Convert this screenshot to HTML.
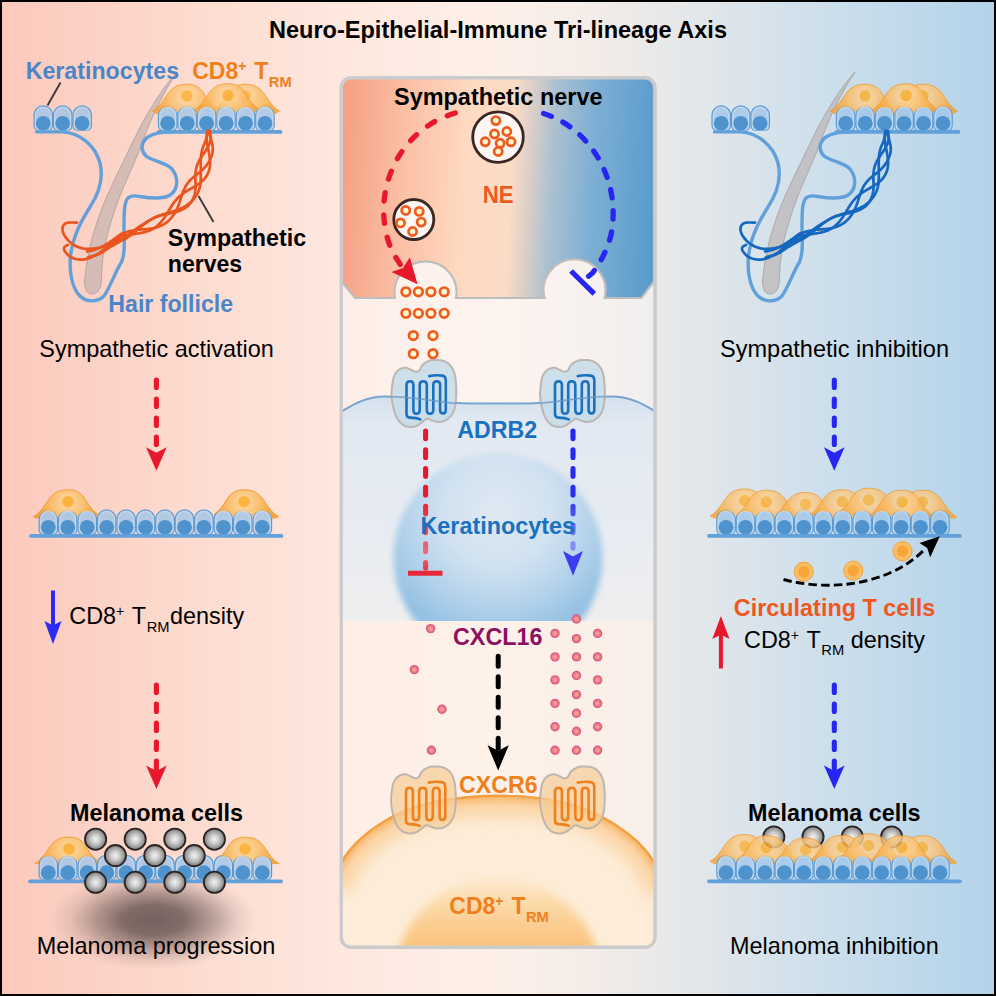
<!DOCTYPE html>
<html><head><meta charset="utf-8"><title>Neuro-Epithelial-Immune Tri-lineage Axis</title>
<style>html,body{margin:0;padding:0;background:#000;width:996px;height:996px;overflow:hidden;font-family:"Liberation Sans",sans-serif}svg{display:block;position:absolute;left:0;top:0}</style>
</head><body>
<svg width="996" height="996" viewBox="0 0 996 996" font-family="'Liberation Sans', sans-serif">
<defs>
<linearGradient id="bg" x1="0" x2="1" y1="0" y2="0">
 <stop offset="0" stop-color="#fbc9bc"/>
 <stop offset="0.16" stop-color="#fdd8cc"/>
 <stop offset="0.33" stop-color="#fee7de"/>
 <stop offset="0.5" stop-color="#fdf0e9"/>
 <stop offset="0.6" stop-color="#f3ece8"/>
 <stop offset="0.68" stop-color="#e6e8e9"/>
 <stop offset="0.8" stop-color="#d2e1ec"/>
 <stop offset="1" stop-color="#b2d3ea"/>
</linearGradient>
<linearGradient id="nerve" gradientUnits="userSpaceOnUse" x1="343" x2="653" y1="182" y2="197.5">
 <stop offset="0" stop-color="#f5a185"/>
 <stop offset="0.2" stop-color="#fbc1a6"/>
 <stop offset="0.4" stop-color="#fedac2"/>
 <stop offset="0.54" stop-color="#fbdcc6"/>
 <stop offset="0.60" stop-color="#dacec8"/>
 <stop offset="0.675" stop-color="#a9c0d1"/>
 <stop offset="0.8" stop-color="#7eafd4"/>
 <stop offset="1" stop-color="#5a9ccc"/>
</linearGradient>
<linearGradient id="kfill" x1="0" x2="0" y1="0" y2="1">
 <stop offset="0" stop-color="#d3e1ee"/>
 <stop offset="0.12" stop-color="#e2e9f2"/>
 <stop offset="0.6" stop-color="#e8ecf2"/>
 <stop offset="1" stop-color="#efeeef"/>
</linearGradient>
<radialGradient id="nuc" gradientUnits="userSpaceOnUse" cx="498" cy="512" r="136">
 <stop offset="0" stop-color="#dfe9f3"/>
 <stop offset="0.42" stop-color="#d0e1f0"/>
 <stop offset="0.72" stop-color="#b0d0ea"/>
 <stop offset="0.9" stop-color="#98c3e4"/>
 <stop offset="1" stop-color="#8ebde1"/>
</radialGradient>
<radialGradient id="tcell" gradientUnits="userSpaceOnUse" cx="498" cy="985" r="200" gradientTransform="translate(498 985) scale(1 0.96) translate(-498 -985)">
 <stop offset="0" stop-color="#fdebd2"/>
 <stop offset="0.7" stop-color="#fde9ce"/>
 <stop offset="0.86" stop-color="#fde1bd"/>
 <stop offset="0.935" stop-color="#fcd3a0"/>
 <stop offset="0.975" stop-color="#f9bd76"/>
 <stop offset="1" stop-color="#f5a54a"/>
</radialGradient>
<linearGradient id="tnuc" gradientUnits="userSpaceOnUse" x1="0" x2="0" y1="874" y2="948">
 <stop offset="0" stop-color="#fde6c6" stop-opacity="0.5"/>
 <stop offset="0.35" stop-color="#fcdcae"/>
 <stop offset="0.7" stop-color="#fbcd90"/>
 <stop offset="1" stop-color="#fac27a"/>
</linearGradient>
<filter id="blur4" x="-20%" y="-20%" width="140%" height="140%"><feGaussianBlur stdDeviation="4"/></filter>
<radialGradient id="shadow" cx="0.5" cy="0.5" r="0.5">
 <stop offset="0" stop-color="#453737" stop-opacity="0.74"/>
 <stop offset="0.3" stop-color="#483a3a" stop-opacity="0.68"/>
 <stop offset="0.55" stop-color="#4e4040" stop-opacity="0.42"/>
 <stop offset="0.8" stop-color="#5a4a4a" stop-opacity="0.13"/>
 <stop offset="1" stop-color="#6a5858" stop-opacity="0"/>
</radialGradient>
<radialGradient id="mel" cx="0.5" cy="0.5" r="0.5">
 <stop offset="0" stop-color="#f4f4f4"/>
 <stop offset="0.45" stop-color="#c9c9c9"/>
 <stop offset="1" stop-color="#7c7c7c"/>
</radialGradient>
<radialGradient id="circ" cx="0.5" cy="0.5" r="0.5">
 <stop offset="0" stop-color="#fbc266"/>
 <stop offset="0.6" stop-color="#f8ae45"/>
 <stop offset="1" stop-color="#f39a2c"/>
</radialGradient>
<radialGradient id="pink" cx="0.5" cy="0.5" r="0.5">
 <stop offset="0" stop-color="#f8b68c"/>
 <stop offset="0.5" stop-color="#ee808e"/>
 <stop offset="1" stop-color="#d6507f"/>
</radialGradient>
<radialGradient id="nev" cx="0.5" cy="0.5" r="0.5">
 <stop offset="0" stop-color="#fffbe2"/>
 <stop offset="0.5" stop-color="#fff6cc"/>
 <stop offset="1" stop-color="#ffeeb0"/>
</radialGradient>
<radialGradient id="tr" gradientUnits="userSpaceOnUse" cx="0" cy="1" r="30">
 <stop offset="0" stop-color="#fcd79c"/>
 <stop offset="0.3" stop-color="#fbcb88"/>
 <stop offset="0.65" stop-color="#f8b75c"/>
 <stop offset="1" stop-color="#f5a136"/>
</radialGradient>
<linearGradient id="redfade" gradientUnits="userSpaceOnUse" x1="0" x2="0" y1="428" y2="575">
 <stop offset="0" stop-color="#e8182c"/>
 <stop offset="0.45" stop-color="#e8182c"/>
 <stop offset="0.85" stop-color="#ee6a78"/>
 <stop offset="1" stop-color="#e8283a"/>
</linearGradient>
<linearGradient id="bluefade" gradientUnits="userSpaceOnUse" x1="0" x2="0" y1="428" y2="577">
 <stop offset="0" stop-color="#2424f0"/>
 <stop offset="0.45" stop-color="#2c2cf2"/>
 <stop offset="0.8" stop-color="#8890f0"/>
 <stop offset="1" stop-color="#3a3af0"/>
</linearGradient>
<filter id="blur12" x="-50%" y="-50%" width="200%" height="200%"><feGaussianBlur stdDeviation="13"/></filter>
<filter id="blur1" x="-20%" y="-20%" width="140%" height="140%"><feGaussianBlur stdDeviation="0.7"/></filter>
<filter id="blur2b" x="-20%" y="-20%" width="140%" height="140%"><feGaussianBlur stdDeviation="3"/></filter>
<filter id="blur2" x="-20%" y="-20%" width="140%" height="140%"><feGaussianBlur stdDeviation="1.2"/></filter>
<filter id="blur6" x="-20%" y="-20%" width="140%" height="140%"><feGaussianBlur stdDeviation="7"/></filter>
<clipPath id="panelclip"><rect x="342.5" y="78.5" width="311.2" height="868" rx="9"/></clipPath>
<clipPath id="kclip"><rect x="342" y="380" width="313" height="241"/></clipPath>
</defs>

<rect x="0" y="0" width="996" height="996" fill="#000"/>
<rect x="2" y="2" width="992" height="992" fill="url(#bg)"/>
<g clip-path="url(#panelclip)">
<rect x="341" y="77" width="315" height="871" fill="#ffffff" fill-opacity="0.28"/>
<rect x="341" y="620" width="315" height="330" fill="#fdeee3" fill-opacity="0.55"/>
<path d="M341,412 C355,403 368,396.5 385,396.5 C420,396.5 440,403.5 470,403.5 L526,403.5 C556,403.5 580,396.5 611,396.5 C629,396.5 642,403 656,412 L656,621 L341,621 Z" fill="url(#kfill)"/>
<g clip-path="url(#kclip)"><circle cx="498" cy="557.5" r="104.5" fill="url(#nuc)" filter="url(#blur2b)"/></g>
<path d="M341,412 C355,403 368,396.5 385,396.5 C420,396.5 440,403.5 470,403.5 L526,403.5 C556,403.5 580,396.5 611,396.5 C629,396.5 642,403 656,412" fill="none" stroke="#79a4cd" stroke-width="2.1"/>
<clipPath id="tclip"><path d="M330,885 C338,860 352,843 371,829 C390,815 410,806 432,801.5 C455,796.5 478,794.8 498,794.8 C518,794.8 545,796 569,803 C592,809 612,820 630,834 C648,848 660,866 668,890 L668,960 L330,960 Z"/></clipPath>
<g clip-path="url(#tclip)">
<rect x="330" y="780" width="340" height="180" fill="#fdedd8"/>
<path d="M330,885 C338,860 352,843 371,829 C390,815 410,806 432,801.5 C455,796.5 478,794.8 498,794.8 C518,794.8 545,796 569,803 C592,809 612,820 630,834 C648,848 660,866 668,890" fill="none" stroke="#fbcf98" stroke-width="44" opacity="0.75" filter="url(#blur6)"/>
<path d="M330,885 C338,860 352,843 371,829 C390,815 410,806 432,801.5 C455,796.5 478,794.8 498,794.8 C518,794.8 545,796 569,803 C592,809 612,820 630,834 C648,848 660,866 668,890" fill="none" stroke="#f7b263" stroke-width="12" opacity="0.9" filter="url(#blur2b)"/>
<path d="M330,885 C338,860 352,843 371,829 C390,815 410,806 432,801.5 C455,796.5 478,794.8 498,794.8 C518,794.8 545,796 569,803 C592,809 612,820 630,834 C648,848 660,866 668,890" fill="none" stroke="#f4a043" stroke-width="4.5" filter="url(#blur1)"/>
</g>
<ellipse cx="498" cy="978" rx="103" ry="100" fill="url(#tnuc)" filter="url(#blur4)"/>
<path d="M342,88 Q342,78 352,78 L644,78 Q654,78 654,88 L654,281.5 L641.5,298 L604.5,298 A31,31 0 1 0 544.5,298 L456,298 A31,31 0 1 0 395,298 L355,298 L342,282 Z" fill="url(#nerve)" stroke="#bdbdbd" stroke-width="2.2"/>
</g>
<rect x="341.2" y="77.8" width="313.8" height="869.5" rx="10" fill="none" stroke="#cbcbcb" stroke-width="3.4"/>
<circle cx="498" cy="137.1" r="25.3" fill="#fdf6f2" stroke="#3a2723" stroke-width="2.8"/><circle cx="495.9" cy="120.6" r="4.1" fill="url(#nev)" stroke="#ef5a1d" stroke-width="2.7"/><circle cx="506.8" cy="131.5" r="4.1" fill="url(#nev)" stroke="#ef5a1d" stroke-width="2.7"/><circle cx="494.5" cy="134" r="4.1" fill="url(#nev)" stroke="#ef5a1d" stroke-width="2.7"/><circle cx="485.2" cy="141.8" r="4.1" fill="url(#nev)" stroke="#ef5a1d" stroke-width="2.7"/><circle cx="500.1" cy="143.3" r="4.1" fill="url(#nev)" stroke="#ef5a1d" stroke-width="2.7"/><circle cx="511" cy="141.8" r="4.1" fill="url(#nev)" stroke="#ef5a1d" stroke-width="2.7"/><circle cx="498.2" cy="151.5" r="4.1" fill="url(#nev)" stroke="#ef5a1d" stroke-width="2.7"/>
<circle cx="413.8" cy="219.5" r="20" fill="#fdf6f2" stroke="#3a2723" stroke-width="2.8"/><circle cx="405.7" cy="210.4" r="4.1" fill="url(#nev)" stroke="#ef5a1d" stroke-width="2.7"/><circle cx="419.2" cy="211.4" r="4.1" fill="url(#nev)" stroke="#ef5a1d" stroke-width="2.7"/><circle cx="400.5" cy="222.9" r="4.1" fill="url(#nev)" stroke="#ef5a1d" stroke-width="2.7"/><circle cx="421.2" cy="222.1" r="4.1" fill="url(#nev)" stroke="#ef5a1d" stroke-width="2.7"/><circle cx="412.6" cy="231.5" r="4.1" fill="url(#nev)" stroke="#ef5a1d" stroke-width="2.7"/>
<path id="redarc" d="M455.3,113 C404,128 376,180 385.5,230 C388.5,245 393,254 398.5,261.5 L400.2,264.5" fill="none" stroke="#e8182c" stroke-width="5.3" stroke-dasharray="8.4 13.96" stroke-linecap="round"/>
<path d="M417.6,284.3 L391.5,272 L403,268 L409.8,257.3 Z" fill="#e8182c"/>
<path id="bluearc" d="M543.5,113.5 C590,128 622,180 611,235 C607,251 600,263 592.5,273 L588.6,276.2" fill="none" stroke="#2626f2" stroke-width="5.3" stroke-dasharray="8.4 12.84" stroke-linecap="round"/>
<line x1="571" y1="271" x2="594.3" y2="293.8" stroke="#2626f2" stroke-width="5.2"/>
<circle cx="405.9" cy="291.8" r="4.3" fill="url(#nev)" stroke="#ef5a1d" stroke-width="2.7"/>
<circle cx="418.4" cy="291.8" r="4.3" fill="url(#nev)" stroke="#ef5a1d" stroke-width="2.7"/>
<circle cx="430.9" cy="291.8" r="4.3" fill="url(#nev)" stroke="#ef5a1d" stroke-width="2.7"/>
<circle cx="444.2" cy="291.8" r="4.3" fill="url(#nev)" stroke="#ef5a1d" stroke-width="2.7"/>
<circle cx="405.9" cy="313.3" r="4.3" fill="url(#nev)" stroke="#ef5a1d" stroke-width="2.7"/>
<circle cx="418.4" cy="313.3" r="4.3" fill="url(#nev)" stroke="#ef5a1d" stroke-width="2.7"/>
<circle cx="430.9" cy="313.3" r="4.3" fill="url(#nev)" stroke="#ef5a1d" stroke-width="2.7"/>
<circle cx="444.2" cy="313.3" r="4.3" fill="url(#nev)" stroke="#ef5a1d" stroke-width="2.7"/>
<circle cx="413.3" cy="335.6" r="4.3" fill="url(#nev)" stroke="#ef5a1d" stroke-width="2.7"/>
<circle cx="433" cy="335.6" r="4.3" fill="url(#nev)" stroke="#ef5a1d" stroke-width="2.7"/>
<circle cx="413.3" cy="353.7" r="4.3" fill="url(#nev)" stroke="#ef5a1d" stroke-width="2.7"/>
<circle cx="433" cy="353.7" r="4.3" fill="url(#nev)" stroke="#ef5a1d" stroke-width="2.7"/>
<g transform="translate(0 0)"><path d="M391.7,390.3 L391.9,388.4 L392.1,386.3 L392.4,384 L392.7,381.6 L393.1,379.5 L393.6,377.6 L394.2,376 L394.8,374.6 L395.5,373.4 L396.3,372.3 L397.2,371.3 L398.1,370.4 L399.2,369.6 L400.3,369 L401.6,368.5 L402.9,368.1 L404.1,367.8 L405.3,367.7 L406.4,367.8 L407.5,368.1 L408.6,368.6 L409.7,369.1 L410.7,369.6 L411.6,370 L412.5,370.4 L413.3,370.8 L414,371.2 L414.7,371.5 L415.4,371.7 L416.1,371.8 L416.8,371.7 L417.4,371.6 L418,371.3 L418.6,371 L419.2,370.5 L419.7,370 L420.2,369.3 L420.6,368.5 L420.9,367.6 L421.3,366.7 L421.8,365.8 L422.5,365 L423.3,364.2 L424.3,363.4 L425.4,362.7 L426.5,362 L427.7,361.4 L428.8,360.9 L429.9,360.5 L431.1,360.3 L432.2,360.1 L433.4,360 L434.7,360 L436,360 L437.4,360.1 L439,360.1 L440.6,360.3 L442.1,360.6 L443.6,360.9 L445,361.4 L446.2,362 L447.4,362.8 L448.5,363.6 L449.6,364.6 L450.5,365.6 L451.4,366.8 L452.2,368 L452.9,369.3 L453.5,370.7 L454.1,372.3 L454.6,373.9 L455,375.8 L455.4,377.9 L455.7,380.2 L455.9,382.7 L456.1,385.3 L456.2,387.8 L456.3,390.3 L456.3,392.8 L456.2,395.3 L456.1,397.8 L455.9,400.3 L455.7,402.6 L455.4,404.7 L455,406.6 L454.6,408.2 L454.2,409.8 L453.7,411.2 L453,412.5 L452.3,413.8 L451.4,415.1 L450.5,416.3 L449.4,417.4 L448.3,418.4 L447.1,419.3 L446,420.1 L444.8,420.7 L443.6,421.1 L442.4,421.5 L441.1,421.7 L439.9,421.8 L438.7,421.9 L437.6,421.9 L436.5,421.7 L435.4,421.5 L434.4,421.2 L433.4,420.9 L432.4,420.6 L431.4,420.3 L430.5,419.8 L429.6,419.4 L428.7,419 L427.8,418.7 L427,418.7 L426.2,418.9 L425.5,419.4 L424.8,419.9 L424.1,420.6 L423.3,421.3 L422.5,421.9 L421.5,422.6 L420.5,423.3 L419.4,424.1 L418.3,424.8 L417.2,425.5 L416.1,426 L415.1,426.4 L414,426.7 L413,426.8 L412,427 L410.9,427 L409.8,426.9 L408.6,426.7 L407.4,426.5 L406.1,426.2 L404.9,425.8 L403.7,425.3 L402.6,424.6 L401.6,423.8 L400.6,422.9 L399.7,421.9 L398.8,420.8 L398,419.6 L397.2,418.3 L396.5,416.9 L395.8,415.3 L395.2,413.6 L394.6,411.9 L394.1,410.1 L393.6,408.4 L393.2,406.6 L392.8,404.7 L392.4,402.8 L392.1,400.9 L391.9,399.1 L391.7,397.5 L391.6,396.1 L391.5,395 L391.5,394 L391.5,393 L391.6,391.8 Z" fill="#c6dce9" fill-opacity="0.85" stroke="#b9b0ac" stroke-width="2" stroke-opacity="0.9"/><path d="M420.2,419.4 C417,417.9 412.5,417.7 410,417.6 Q406.5,417.4 406.5,414 L406.5,385 Q406.5,381.2 410,381.2 Q413.4,381.2 413.4,385 L413.4,410 Q413.4,413.8 416.5,413.8 Q419.7,413.8 419.7,410 L419.7,385 Q419.7,381.2 423.2,381.2 Q426.8,381.2 426.8,385 L426.8,410 Q426.8,413.8 430,413.8 Q433.3,413.8 433.3,410 L433.3,385 Q433.3,381.2 436.7,381.2 Q440.1,381.2 440.1,385 L440.1,410 Q440.1,413.4 443,413.4 Q445.8,413.4 445.8,410 L445.8,380.5 Q445.8,376 442,375.6 C438,375.1 434,375.2 429.2,376.1" fill="none" stroke="#1a71c0" stroke-width="2.6" stroke-linecap="round" stroke-linejoin="round"/></g>
<g transform="translate(148.5 0)"><path d="M391.7,390.3 L391.9,388.4 L392.1,386.3 L392.4,384 L392.7,381.6 L393.1,379.5 L393.6,377.6 L394.2,376 L394.8,374.6 L395.5,373.4 L396.3,372.3 L397.2,371.3 L398.1,370.4 L399.2,369.6 L400.3,369 L401.6,368.5 L402.9,368.1 L404.1,367.8 L405.3,367.7 L406.4,367.8 L407.5,368.1 L408.6,368.6 L409.7,369.1 L410.7,369.6 L411.6,370 L412.5,370.4 L413.3,370.8 L414,371.2 L414.7,371.5 L415.4,371.7 L416.1,371.8 L416.8,371.7 L417.4,371.6 L418,371.3 L418.6,371 L419.2,370.5 L419.7,370 L420.2,369.3 L420.6,368.5 L420.9,367.6 L421.3,366.7 L421.8,365.8 L422.5,365 L423.3,364.2 L424.3,363.4 L425.4,362.7 L426.5,362 L427.7,361.4 L428.8,360.9 L429.9,360.5 L431.1,360.3 L432.2,360.1 L433.4,360 L434.7,360 L436,360 L437.4,360.1 L439,360.1 L440.6,360.3 L442.1,360.6 L443.6,360.9 L445,361.4 L446.2,362 L447.4,362.8 L448.5,363.6 L449.6,364.6 L450.5,365.6 L451.4,366.8 L452.2,368 L452.9,369.3 L453.5,370.7 L454.1,372.3 L454.6,373.9 L455,375.8 L455.4,377.9 L455.7,380.2 L455.9,382.7 L456.1,385.3 L456.2,387.8 L456.3,390.3 L456.3,392.8 L456.2,395.3 L456.1,397.8 L455.9,400.3 L455.7,402.6 L455.4,404.7 L455,406.6 L454.6,408.2 L454.2,409.8 L453.7,411.2 L453,412.5 L452.3,413.8 L451.4,415.1 L450.5,416.3 L449.4,417.4 L448.3,418.4 L447.1,419.3 L446,420.1 L444.8,420.7 L443.6,421.1 L442.4,421.5 L441.1,421.7 L439.9,421.8 L438.7,421.9 L437.6,421.9 L436.5,421.7 L435.4,421.5 L434.4,421.2 L433.4,420.9 L432.4,420.6 L431.4,420.3 L430.5,419.8 L429.6,419.4 L428.7,419 L427.8,418.7 L427,418.7 L426.2,418.9 L425.5,419.4 L424.8,419.9 L424.1,420.6 L423.3,421.3 L422.5,421.9 L421.5,422.6 L420.5,423.3 L419.4,424.1 L418.3,424.8 L417.2,425.5 L416.1,426 L415.1,426.4 L414,426.7 L413,426.8 L412,427 L410.9,427 L409.8,426.9 L408.6,426.7 L407.4,426.5 L406.1,426.2 L404.9,425.8 L403.7,425.3 L402.6,424.6 L401.6,423.8 L400.6,422.9 L399.7,421.9 L398.8,420.8 L398,419.6 L397.2,418.3 L396.5,416.9 L395.8,415.3 L395.2,413.6 L394.6,411.9 L394.1,410.1 L393.6,408.4 L393.2,406.6 L392.8,404.7 L392.4,402.8 L392.1,400.9 L391.9,399.1 L391.7,397.5 L391.6,396.1 L391.5,395 L391.5,394 L391.5,393 L391.6,391.8 Z" fill="#c6dce9" fill-opacity="0.85" stroke="#b9b0ac" stroke-width="2" stroke-opacity="0.9"/><path d="M420.2,419.4 C417,417.9 412.5,417.7 410,417.6 Q406.5,417.4 406.5,414 L406.5,385 Q406.5,381.2 410,381.2 Q413.4,381.2 413.4,385 L413.4,410 Q413.4,413.8 416.5,413.8 Q419.7,413.8 419.7,410 L419.7,385 Q419.7,381.2 423.2,381.2 Q426.8,381.2 426.8,385 L426.8,410 Q426.8,413.8 430,413.8 Q433.3,413.8 433.3,410 L433.3,385 Q433.3,381.2 436.7,381.2 Q440.1,381.2 440.1,385 L440.1,410 Q440.1,413.4 443,413.4 Q445.8,413.4 445.8,410 L445.8,380.5 Q445.8,376 442,375.6 C438,375.1 434,375.2 429.2,376.1" fill="none" stroke="#1a71c0" stroke-width="2.6" stroke-linecap="round" stroke-linejoin="round"/></g>
<path d="M391,396.7 C420,396.7 440,403 457,403.3" fill="none" stroke="#6f97c2" stroke-width="1.5" opacity="0.75"/>
<path d="M540,403.2 C560,402 582,396.8 605.5,396.6" fill="none" stroke="#6f97c2" stroke-width="1.5" opacity="0.75"/>
<line x1="425.6" y1="431" x2="425.6" y2="568" stroke="url(#redfade)" stroke-width="5.1" stroke-dasharray="7.6 11.2" stroke-linecap="round"/>
<line x1="408" y1="573.3" x2="442.5" y2="573.3" stroke="#e8283a" stroke-width="5"/>
<line x1="573" y1="431" x2="573" y2="548" stroke="url(#bluefade)" stroke-width="5.1" stroke-dasharray="7.6 11.2" stroke-linecap="round"/>
<path d="M573,575.8 L563,551 L573,556.5 L583,551 Z" fill="#3c3cf0"/>
<circle cx="430.6" cy="628.6" r="4.7" fill="url(#pink)"/>
<circle cx="414.3" cy="669.6" r="4.7" fill="url(#pink)"/>
<circle cx="442" cy="709.3" r="4.7" fill="url(#pink)"/>
<circle cx="431.4" cy="750.3" r="4.7" fill="url(#pink)"/>
<circle cx="555" cy="633.4" r="4.7" fill="url(#pink)"/>
<circle cx="555" cy="656.9" r="4.7" fill="url(#pink)"/>
<circle cx="555" cy="679.9" r="4.7" fill="url(#pink)"/>
<circle cx="555" cy="703.4" r="4.7" fill="url(#pink)"/>
<circle cx="555" cy="726.8" r="4.7" fill="url(#pink)"/>
<circle cx="555" cy="750.3" r="4.7" fill="url(#pink)"/>
<circle cx="597.6" cy="633.4" r="4.7" fill="url(#pink)"/>
<circle cx="597.6" cy="656.9" r="4.7" fill="url(#pink)"/>
<circle cx="597.6" cy="679.9" r="4.7" fill="url(#pink)"/>
<circle cx="597.6" cy="703.4" r="4.7" fill="url(#pink)"/>
<circle cx="597.6" cy="726.8" r="4.7" fill="url(#pink)"/>
<circle cx="597.6" cy="750.3" r="4.7" fill="url(#pink)"/>
<circle cx="576.5" cy="619" r="4.7" fill="url(#pink)"/>
<circle cx="576.5" cy="638.6" r="4.7" fill="url(#pink)"/>
<circle cx="576.5" cy="656.9" r="4.7" fill="url(#pink)"/>
<circle cx="576.5" cy="675.5" r="4.7" fill="url(#pink)"/>
<circle cx="576.5" cy="694.6" r="4.7" fill="url(#pink)"/>
<circle cx="576.5" cy="713.3" r="4.7" fill="url(#pink)"/>
<circle cx="576.5" cy="731.2" r="4.7" fill="url(#pink)"/>
<circle cx="576.5" cy="750.3" r="4.7" fill="url(#pink)"/>
<line x1="498.2" y1="656.2" x2="498.2" y2="752" stroke="#000" stroke-width="5" stroke-dasharray="10 10.5" stroke-linecap="round"/>
<path d="M498.2,770.6 L487.6,745.2 L498.2,750.8 L508.8,745.2 Z" fill="#000"/>
<g transform="translate(-0.5 406.5)"><path d="M391.7,390.3 L391.9,388.4 L392.1,386.3 L392.4,384 L392.7,381.6 L393.1,379.5 L393.6,377.6 L394.2,376 L394.8,374.6 L395.5,373.4 L396.3,372.3 L397.2,371.3 L398.1,370.4 L399.2,369.6 L400.3,369 L401.6,368.5 L402.9,368.1 L404.1,367.8 L405.3,367.7 L406.4,367.8 L407.5,368.1 L408.6,368.6 L409.7,369.1 L410.7,369.6 L411.6,370 L412.5,370.4 L413.3,370.8 L414,371.2 L414.7,371.5 L415.4,371.7 L416.1,371.8 L416.8,371.7 L417.4,371.6 L418,371.3 L418.6,371 L419.2,370.5 L419.7,370 L420.2,369.3 L420.6,368.5 L420.9,367.6 L421.3,366.7 L421.8,365.8 L422.5,365 L423.3,364.2 L424.3,363.4 L425.4,362.7 L426.5,362 L427.7,361.4 L428.8,360.9 L429.9,360.5 L431.1,360.3 L432.2,360.1 L433.4,360 L434.7,360 L436,360 L437.4,360.1 L439,360.1 L440.6,360.3 L442.1,360.6 L443.6,360.9 L445,361.4 L446.2,362 L447.4,362.8 L448.5,363.6 L449.6,364.6 L450.5,365.6 L451.4,366.8 L452.2,368 L452.9,369.3 L453.5,370.7 L454.1,372.3 L454.6,373.9 L455,375.8 L455.4,377.9 L455.7,380.2 L455.9,382.7 L456.1,385.3 L456.2,387.8 L456.3,390.3 L456.3,392.8 L456.2,395.3 L456.1,397.8 L455.9,400.3 L455.7,402.6 L455.4,404.7 L455,406.6 L454.6,408.2 L454.2,409.8 L453.7,411.2 L453,412.5 L452.3,413.8 L451.4,415.1 L450.5,416.3 L449.4,417.4 L448.3,418.4 L447.1,419.3 L446,420.1 L444.8,420.7 L443.6,421.1 L442.4,421.5 L441.1,421.7 L439.9,421.8 L438.7,421.9 L437.6,421.9 L436.5,421.7 L435.4,421.5 L434.4,421.2 L433.4,420.9 L432.4,420.6 L431.4,420.3 L430.5,419.8 L429.6,419.4 L428.7,419 L427.8,418.7 L427,418.7 L426.2,418.9 L425.5,419.4 L424.8,419.9 L424.1,420.6 L423.3,421.3 L422.5,421.9 L421.5,422.6 L420.5,423.3 L419.4,424.1 L418.3,424.8 L417.2,425.5 L416.1,426 L415.1,426.4 L414,426.7 L413,426.8 L412,427 L410.9,427 L409.8,426.9 L408.6,426.7 L407.4,426.5 L406.1,426.2 L404.9,425.8 L403.7,425.3 L402.6,424.6 L401.6,423.8 L400.6,422.9 L399.7,421.9 L398.8,420.8 L398,419.6 L397.2,418.3 L396.5,416.9 L395.8,415.3 L395.2,413.6 L394.6,411.9 L394.1,410.1 L393.6,408.4 L393.2,406.6 L392.8,404.7 L392.4,402.8 L392.1,400.9 L391.9,399.1 L391.7,397.5 L391.6,396.1 L391.5,395 L391.5,394 L391.5,393 L391.6,391.8 Z" fill="#f6cf9c" fill-opacity="0.75" stroke="#b9b0ac" stroke-width="2" stroke-opacity="0.9"/><path d="M420.2,419.4 C417,417.9 412.5,417.7 410,417.6 Q406.5,417.4 406.5,414 L406.5,385 Q406.5,381.2 410,381.2 Q413.4,381.2 413.4,385 L413.4,410 Q413.4,413.8 416.5,413.8 Q419.7,413.8 419.7,410 L419.7,385 Q419.7,381.2 423.2,381.2 Q426.8,381.2 426.8,385 L426.8,410 Q426.8,413.8 430,413.8 Q433.3,413.8 433.3,410 L433.3,385 Q433.3,381.2 436.7,381.2 Q440.1,381.2 440.1,385 L440.1,410 Q440.1,413.4 443,413.4 Q445.8,413.4 445.8,410 L445.8,380.5 Q445.8,376 442,375.6 C438,375.1 434,375.2 429.2,376.1" fill="none" stroke="#f0801c" stroke-width="2.6" stroke-linecap="round" stroke-linejoin="round"/></g>
<g transform="translate(148.5 406.5)"><path d="M391.7,390.3 L391.9,388.4 L392.1,386.3 L392.4,384 L392.7,381.6 L393.1,379.5 L393.6,377.6 L394.2,376 L394.8,374.6 L395.5,373.4 L396.3,372.3 L397.2,371.3 L398.1,370.4 L399.2,369.6 L400.3,369 L401.6,368.5 L402.9,368.1 L404.1,367.8 L405.3,367.7 L406.4,367.8 L407.5,368.1 L408.6,368.6 L409.7,369.1 L410.7,369.6 L411.6,370 L412.5,370.4 L413.3,370.8 L414,371.2 L414.7,371.5 L415.4,371.7 L416.1,371.8 L416.8,371.7 L417.4,371.6 L418,371.3 L418.6,371 L419.2,370.5 L419.7,370 L420.2,369.3 L420.6,368.5 L420.9,367.6 L421.3,366.7 L421.8,365.8 L422.5,365 L423.3,364.2 L424.3,363.4 L425.4,362.7 L426.5,362 L427.7,361.4 L428.8,360.9 L429.9,360.5 L431.1,360.3 L432.2,360.1 L433.4,360 L434.7,360 L436,360 L437.4,360.1 L439,360.1 L440.6,360.3 L442.1,360.6 L443.6,360.9 L445,361.4 L446.2,362 L447.4,362.8 L448.5,363.6 L449.6,364.6 L450.5,365.6 L451.4,366.8 L452.2,368 L452.9,369.3 L453.5,370.7 L454.1,372.3 L454.6,373.9 L455,375.8 L455.4,377.9 L455.7,380.2 L455.9,382.7 L456.1,385.3 L456.2,387.8 L456.3,390.3 L456.3,392.8 L456.2,395.3 L456.1,397.8 L455.9,400.3 L455.7,402.6 L455.4,404.7 L455,406.6 L454.6,408.2 L454.2,409.8 L453.7,411.2 L453,412.5 L452.3,413.8 L451.4,415.1 L450.5,416.3 L449.4,417.4 L448.3,418.4 L447.1,419.3 L446,420.1 L444.8,420.7 L443.6,421.1 L442.4,421.5 L441.1,421.7 L439.9,421.8 L438.7,421.9 L437.6,421.9 L436.5,421.7 L435.4,421.5 L434.4,421.2 L433.4,420.9 L432.4,420.6 L431.4,420.3 L430.5,419.8 L429.6,419.4 L428.7,419 L427.8,418.7 L427,418.7 L426.2,418.9 L425.5,419.4 L424.8,419.9 L424.1,420.6 L423.3,421.3 L422.5,421.9 L421.5,422.6 L420.5,423.3 L419.4,424.1 L418.3,424.8 L417.2,425.5 L416.1,426 L415.1,426.4 L414,426.7 L413,426.8 L412,427 L410.9,427 L409.8,426.9 L408.6,426.7 L407.4,426.5 L406.1,426.2 L404.9,425.8 L403.7,425.3 L402.6,424.6 L401.6,423.8 L400.6,422.9 L399.7,421.9 L398.8,420.8 L398,419.6 L397.2,418.3 L396.5,416.9 L395.8,415.3 L395.2,413.6 L394.6,411.9 L394.1,410.1 L393.6,408.4 L393.2,406.6 L392.8,404.7 L392.4,402.8 L392.1,400.9 L391.9,399.1 L391.7,397.5 L391.6,396.1 L391.5,395 L391.5,394 L391.5,393 L391.6,391.8 Z" fill="#f6cf9c" fill-opacity="0.75" stroke="#b9b0ac" stroke-width="2" stroke-opacity="0.9"/><path d="M420.2,419.4 C417,417.9 412.5,417.7 410,417.6 Q406.5,417.4 406.5,414 L406.5,385 Q406.5,381.2 410,381.2 Q413.4,381.2 413.4,385 L413.4,410 Q413.4,413.8 416.5,413.8 Q419.7,413.8 419.7,410 L419.7,385 Q419.7,381.2 423.2,381.2 Q426.8,381.2 426.8,385 L426.8,410 Q426.8,413.8 430,413.8 Q433.3,413.8 433.3,410 L433.3,385 Q433.3,381.2 436.7,381.2 Q440.1,381.2 440.1,385 L440.1,410 Q440.1,413.4 443,413.4 Q445.8,413.4 445.8,410 L445.8,380.5 Q445.8,376 442,375.6 C438,375.1 434,375.2 429.2,376.1" fill="none" stroke="#f0801c" stroke-width="2.6" stroke-linecap="round" stroke-linejoin="round"/></g>
<g transform="translate(0 0)"><path d="M176.8,72 L175.7,73.4 L174.2,75.2 L172.5,77.3 L170.5,79.7 L168.4,82.3 L166.3,85.1 L164.1,88 L162,91 L159.9,94.1 L157.7,97.4 L155.5,100.8 L153.2,104.4 L150.9,108.2 L148.6,112 L146.3,116 L144,120 L141.8,124.1 L139.6,128.3 L137.4,132.6 L135.2,137 L133,141.5 L130.7,146.2 L128.4,151 L126,156 L123.5,161.3 L120.8,166.9 L117.9,172.7 L115.1,178.6 L112.3,184.5 L109.7,190.3 L107.2,195.8 L105,201 L103,205.8 L101.2,210.4 L99.6,214.9 L98.1,219.1 L96.7,223.2 L95.4,227.2 L94.2,231.2 L93,235 L91.9,238.8 L91,242.4 L90.2,246 L89.4,249.4 L88.7,252.8 L88.1,256 L87.5,259.1 L87,262 L86.5,264.9 L86.1,267.8 L85.7,270.5 L85.4,273.2 L85.2,275.6 L84.9,277.8 L84.8,279.6 L84.6,281 C84.5,289 87,294 92,294 C97.5,294 101,289 101.3,281 L101.3,281 L101.4,279.6 L101.5,277.7 L101.6,275.4 L101.7,272.9 L101.8,270.2 L102,267.4 L102.2,264.6 L102.5,262 L102.8,259.5 L103,257.1 L103.3,254.7 L103.6,252.2 L104,249.6 L104.5,246.8 L105.1,243.6 L106,240 L107,236 L108.2,231.6 L109.6,226.9 L111,221.9 L112.6,216.8 L114.3,211.6 L116.1,206.3 L118,201 L120.1,195.6 L122.4,190 L124.8,184.2 L127.4,178.3 L129.9,172.5 L132.4,166.8 L134.8,161.2 L137,156 L139,151 L140.9,146.2 L142.7,141.5 L144.4,137 L146.1,132.6 L147.8,128.3 L149.5,124.1 L151.2,120 L153,116 L154.8,112 L156.7,108.2 L158.5,104.4 L160.3,100.8 L162.1,97.4 L163.8,94.1 L165.5,91 L167.2,88 L168.9,85.1 L170.6,82.3 L172.2,79.7 L173.8,77.3 L175.2,75.2 L176.3,73.4 L177.2,72 Z" fill="#b4aaa8" fill-opacity="0.55" stroke="#a89c9a" stroke-opacity="0.8" stroke-width="1"/><path d="M36.5,131.9 L62,131.9 C80,133 95,145 100,163 C104,180 98,195 90,207 C82,220 73,235 70.5,256 C69,272 72,288 80,296 C86,302 97,303 104,296 C110,288 115,272 121.5,262 C126,252 124,240 124,228 C124,214 124,202 128,198 C131,195 135,195.5 140,196.5 C152,198.5 164,199 170,195 C178,190 179,178 172,169 C165,162 152,161 146,156 C140,150 141,142 148,137 C154,133 162,131.9 172,131.9" fill="none" stroke="#62a0da" stroke-width="3.4" stroke-linecap="round" stroke-linejoin="round"/><path d="M37.5,130.2 Q34,129.2 34,125.2 L34,115.4 C34,109.2 38.7,105.9 43.2,105.9 C47.8,105.9 52.5,109.2 52.5,115.4 L52.5,125.2 Q52.5,129.2 49,130.2 Z" fill="#b2c7e1" stroke="#5b9bd6" stroke-width="1.15"/><path d="M38,129.7 Q35.5,128.7 35.5,125.7 L35.5,115.9 C35.5,110.4 39.7,107.4 43.2,107.4 C46.8,107.4 51,110.4 51,115.9 L51,125.7 Q51,128.7 48.5,129.7 Z" fill="none" stroke="#d6dce9" stroke-width="1.2" stroke-opacity="0.6"/><clipPath id="cc335_1302"><rect x="33.5" y="105.9" width="19.4" height="24.6"/></clipPath><circle cx="43.2" cy="123.3" r="7.4" fill="#4e93cd" clip-path="url(#cc335_1302)"/><path d="M56.9,130.2 Q53.4,129.2 53.4,125.2 L53.4,115.4 C53.4,109.2 58.2,105.9 62.7,105.9 C67.2,105.9 72,109.2 72,115.4 L72,125.2 Q72,129.2 68.5,130.2 Z" fill="#b2c8e1" stroke="#5b9bd6" stroke-width="1.15"/><path d="M57.4,129.7 Q54.9,128.7 54.9,125.7 L54.9,115.9 C54.9,110.4 59.2,107.4 62.7,107.4 C66.2,107.4 70.5,110.4 70.5,115.9 L70.5,125.7 Q70.5,128.7 68,129.7 Z" fill="none" stroke="#d6dde9" stroke-width="1.2" stroke-opacity="0.6"/><clipPath id="cc529_1302"><rect x="53" y="105.9" width="19.4" height="24.6"/></clipPath><circle cx="62.7" cy="123.3" r="7.4" fill="#4e93cd" clip-path="url(#cc529_1302)"/><path d="M76.4,130.2 Q72.9,129.2 72.9,125.2 L72.9,115.4 C72.9,109.2 77.6,105.9 82.1,105.9 C86.7,105.9 91.4,109.2 91.4,115.4 L91.4,125.2 Q91.4,129.2 87.9,130.2 Z" fill="#b2c8e2" stroke="#5b9bd6" stroke-width="1.15"/><path d="M76.9,129.7 Q74.4,128.7 74.4,125.7 L74.4,115.9 C74.4,110.4 78.6,107.4 82.1,107.4 C85.7,107.4 89.9,110.4 89.9,115.9 L89.9,125.7 Q89.9,128.7 87.4,129.7 Z" fill="none" stroke="#d6ddea" stroke-width="1.2" stroke-opacity="0.6"/><clipPath id="cc724_1302"><rect x="72.4" y="105.9" width="19.4" height="24.6"/></clipPath><circle cx="82.1" cy="123.3" r="7.4" fill="#4e93cd" clip-path="url(#cc724_1302)"/><path d="M161.9,130.2 Q158.4,129.2 158.4,125.2 L158.4,115.4 C158.4,109.2 163.2,105.9 167.7,105.9 C172.2,105.9 177,109.2 177,115.4 L177,125.2 Q177,129.2 173.5,130.2 Z" fill="#b3cae3" stroke="#5b9bd6" stroke-width="1.15"/><path d="M162.4,129.7 Q159.9,128.7 159.9,125.7 L159.9,115.9 C159.9,110.4 164.2,107.4 167.7,107.4 C171.2,107.4 175.5,110.4 175.5,115.9 L175.5,125.7 Q175.5,128.7 173,129.7 Z" fill="none" stroke="#d7dfeb" stroke-width="1.2" stroke-opacity="0.6"/><clipPath id="cc1580_1302"><rect x="158" y="105.9" width="19.4" height="24.6"/></clipPath><circle cx="167.7" cy="123.3" r="7.4" fill="#4e93cd" clip-path="url(#cc1580_1302)"/><path d="M181.4,130.2 Q177.9,129.2 177.9,125.2 L177.9,115.4 C177.9,109.2 182.6,105.9 187.2,105.9 C191.7,105.9 196.4,109.2 196.4,115.4 L196.4,125.2 Q196.4,129.2 192.9,130.2 Z" fill="#b3cae4" stroke="#5b9bd6" stroke-width="1.15"/><path d="M181.9,129.7 Q179.4,128.7 179.4,125.7 L179.4,115.9 C179.4,110.4 183.6,107.4 187.2,107.4 C190.7,107.4 194.9,110.4 194.9,115.9 L194.9,125.7 Q194.9,128.7 192.4,129.7 Z" fill="none" stroke="#d7dfec" stroke-width="1.2" stroke-opacity="0.6"/><clipPath id="cc1774_1302"><rect x="177.4" y="105.9" width="19.4" height="24.6"/></clipPath><circle cx="187.2" cy="123.3" r="7.4" fill="#4e93cd" clip-path="url(#cc1774_1302)"/><path d="M200.8,130.2 Q197.3,129.2 197.3,125.2 L197.3,115.4 C197.3,109.2 202.1,105.9 206.6,105.9 C211.2,105.9 215.9,109.2 215.9,115.4 L215.9,125.2 Q215.9,129.2 212.4,130.2 Z" fill="#b3cae4" stroke="#5b9bd6" stroke-width="1.15"/><path d="M201.3,129.7 Q198.8,128.7 198.8,125.7 L198.8,115.9 C198.8,110.4 203.1,107.4 206.6,107.4 C210.2,107.4 214.4,110.4 214.4,115.9 L214.4,125.7 Q214.4,128.7 211.9,129.7 Z" fill="none" stroke="#d7dfec" stroke-width="1.2" stroke-opacity="0.6"/><clipPath id="cc1969_1302"><rect x="196.9" y="105.9" width="19.4" height="24.6"/></clipPath><circle cx="206.6" cy="123.3" r="7.4" fill="#4e93cd" clip-path="url(#cc1969_1302)"/><path d="M220.3,130.2 Q216.8,129.2 216.8,125.2 L216.8,115.4 C216.8,109.2 221.5,105.9 226.1,105.9 C230.6,105.9 235.3,109.2 235.3,115.4 L235.3,125.2 Q235.3,129.2 231.8,130.2 Z" fill="#b3cbe5" stroke="#5b9bd6" stroke-width="1.15"/><path d="M220.8,129.7 Q218.3,128.7 218.3,125.7 L218.3,115.9 C218.3,110.4 222.5,107.4 226.1,107.4 C229.6,107.4 233.8,110.4 233.8,115.9 L233.8,125.7 Q233.8,128.7 231.3,129.7 Z" fill="none" stroke="#d7e0ed" stroke-width="1.2" stroke-opacity="0.6"/><clipPath id="cc2163_1302"><rect x="216.3" y="105.9" width="19.4" height="24.6"/></clipPath><circle cx="226.1" cy="123.3" r="7.4" fill="#4e93cd" clip-path="url(#cc2163_1302)"/><path d="M239.8,130.2 Q236.2,129.2 236.2,125.2 L236.2,115.4 C236.2,109.2 241,105.9 245.5,105.9 C250.1,105.9 254.8,109.2 254.8,115.4 L254.8,125.2 Q254.8,129.2 251.3,130.2 Z" fill="#b3cbe5" stroke="#5b9bd6" stroke-width="1.15"/><path d="M240.2,129.7 Q237.8,128.7 237.8,125.7 L237.8,115.9 C237.8,110.4 242,107.4 245.5,107.4 C249.1,107.4 253.3,110.4 253.3,115.9 L253.3,125.7 Q253.3,128.7 250.8,129.7 Z" fill="none" stroke="#d7e0ed" stroke-width="1.2" stroke-opacity="0.6"/><clipPath id="cc2358_1302"><rect x="235.8" y="105.9" width="19.4" height="24.6"/></clipPath><circle cx="245.5" cy="123.3" r="7.4" fill="#4e93cd" clip-path="url(#cc2358_1302)"/><path d="M259.2,130.2 Q255.7,129.2 255.7,125.2 L255.7,115.4 C255.7,109.2 260.4,105.9 265,105.9 C269.5,105.9 274.2,109.2 274.2,115.4 L274.2,125.2 Q274.2,129.2 270.8,130.2 Z" fill="#b3cbe5" stroke="#5b9bd6" stroke-width="1.15"/><path d="M259.7,129.7 Q257.2,128.7 257.2,125.7 L257.2,115.9 C257.2,110.4 261.4,107.4 265,107.4 C268.5,107.4 272.8,110.4 272.8,115.9 L272.8,125.7 Q272.8,128.7 270.2,129.7 Z" fill="none" stroke="#d7e0ed" stroke-width="1.2" stroke-opacity="0.6"/><clipPath id="cc2552_1302"><rect x="255.2" y="105.9" width="19.4" height="24.6"/></clipPath><circle cx="265" cy="123.3" r="7.4" fill="#4e93cd" clip-path="url(#cc2552_1302)"/><line x1="158.5" y1="131.89999999999998" x2="280.5" y2="131.89999999999998" stroke="#62a0da" stroke-width="3.7" stroke-linecap="round"/><clipPath id="sc1"><path d="M98,45.9 L334.7,45.9 L334.7,116 L274.7,114.5 A9.7,7.6 0 0 0 255.2,114.5 A9.7,7.6 0 0 0 235.8,114.5 A9.7,7.6 0 0 0 216.3,114.5 A9.7,7.6 0 0 0 196.9,114.5 A9.7,7.6 0 0 0 177.4,114.5 A9.7,7.6 0 0 0 158,114.5 L98,116 Z"/></clipPath><g clip-path="url(#sc1)"><g transform="translate(187 96) scale(1 1)" opacity="0.85"><path d="M-34.5,15 C-27,11 -23,3 -19,-2.5 C-15,-8 -10,-11.8 0,-11.8 C9,-11.8 13,-8 16,-4 C20,2 23,8 29.5,12.4 L24,21 L-24,21 Z" fill="url(#tr)" stroke="#f29a2b" stroke-width="1"/><circle cx="0" cy="0" r="5.7" fill="#fbb136"/></g><g transform="translate(245 96) scale(-1 1)" opacity="0.85"><path d="M-34.5,15 C-27,11 -23,3 -19,-2.5 C-15,-8 -10,-11.8 0,-11.8 C9,-11.8 13,-8 16,-4 C20,2 23,8 29.5,12.4 L24,21 L-24,21 Z" fill="url(#tr)" stroke="#f29a2b" stroke-width="1"/><circle cx="0" cy="0" r="5.7" fill="#fbb136"/></g><g transform="translate(228 95.5) scale(1 1)" opacity="0.85"><path d="M-34.5,15 C-27,11 -23,3 -19,-2.5 C-15,-8 -10,-11.8 0,-11.8 C9,-11.8 13,-8 16,-4 C20,2 23,8 29.5,12.4 L24,21 L-24,21 Z" fill="url(#tr)" stroke="#f29a2b" stroke-width="1"/><circle cx="0" cy="0" r="5.7" fill="#fbb136"/></g></g><path d="M208.2,131 L208.1,131.3 L208.1,131.7 L208,132.2 L207.9,132.7 L207.8,133.3 L207.6,133.8 L207.5,134.4 L207.3,135.1 L207.2,135.7 L207,136.4 L206.8,137.1 L206.6,137.8 L206.4,138.6 L206.1,139.3 L205.9,140.1 L205.6,140.8 L205.3,141.6 L205.1,142.3 L204.8,143 L204.5,143.7 L204.2,144.4 L203.9,145 L203.6,145.7 L203.3,146.4 L203.1,147.1 L202.8,147.7 L202.6,148.4 L202.4,149.1 L202.2,149.8 L202,150.5 L201.8,151.2 L201.7,151.9 L201.6,152.7 L201.4,153.4 L201.3,154.2 L201.2,154.9 L201.1,155.7 L201,156.4 L201,157.2 L200.9,158 L200.8,158.7 L200.8,159.5 L200.8,160.2 L200.7,161 L200.7,161.7 L200.7,162.5 L200.7,163.2 L200.7,164 L200.7,164.7 L200.7,165.4 L200.7,166.1 L200.8,166.9 L200.8,167.6 L200.8,168.3 L200.8,169.1 L200.8,169.8 L200.8,170.5 L200.8,171.3 L200.8,172 L200.8,172.8 L200.8,173.5 L200.8,174.3 L200.8,175 L200.8,175.8 L200.8,176.5 L200.8,177.2 L200.8,178 L200.8,178.7 L200.8,179.5 L200.7,180.2 L200.7,180.9 L200.7,181.6 L200.6,182.3 L200.5,183 L200.5,183.7 L200.4,184.4 L200.3,185.1 L200.1,185.7 L200,186.4 L199.9,187 L199.7,187.6 L199.5,188.3 L199.3,188.9 L199.1,189.5 L198.9,190.1 L198.7,190.7 L198.5,191.3 L198.2,191.9 L197.9,192.5 L197.7,193.1 L197.4,193.7 L197.1,194.2 L196.7,194.8 L196.4,195.4 L196,195.9 L195.7,196.5 L195.3,197 L194.9,197.6 L194.5,198.1 L194.1,198.6 L193.6,199.1 L193.2,199.7 L192.7,200.2 L192.2,200.7 L191.7,201.2 L191.2,201.7 L190.7,202.2 L190.1,202.7 L189.6,203.1 L189,203.6 L188.4,204 L187.8,204.5 L187.2,204.9 L186.6,205.3 L186,205.8 L185.3,206.2 L184.7,206.5 L184,206.9 L183.4,207.3 L182.7,207.6 L182,208 L181.3,208.3 L180.7,208.6 L180,208.9 L179.3,209.2 L178.6,209.4 L177.9,209.7 L177.2,210 L176.5,210.2 L175.8,210.5 L175.1,210.7 L174.4,211 L173.7,211.2 L173,211.4 L172.3,211.6 L171.6,211.8 L170.9,212.1 L170.2,212.3 L169.5,212.5 L168.8,212.7 L168.1,212.9 L167.5,213.1 L166.8,213.3 L166.1,213.5 L165.4,213.7 L164.7,213.9 L164.1,214.1 L163.4,214.3 L162.7,214.5 L162.1,214.7 L161.4,215 L160.8,215.2 L160.1,215.4 L159.5,215.6 L158.8,215.9 L158.2,216.1 L157.6,216.4 L156.9,216.6 L156.3,216.9 L155.7,217.2 L155.1,217.4 L154.5,217.7 L153.8,218 L153.2,218.3 L152.6,218.6 L152,218.9 L151.4,219.2 L150.8,219.6 L150.2,219.9 L149.7,220.2 L149.1,220.5 L148.5,220.9 L147.9,221.2 L147.3,221.6 L146.7,221.9 L146.1,222.3 L145.5,222.6 L144.9,223 L144.3,223.4 L143.7,223.8 L143,224.2 L142.4,224.6 L141.8,225 L141.2,225.4 L140.5,225.8 L139.9,226.2 L139.3,226.7 L138.7,227.1 L138.1,227.5 L137.5,227.9 L136.9,228.4 L136.3,228.8 L135.7,229.3 L135.1,229.8 L134.5,230.3 L133.8,230.7 L133.2,231.2 L132.6,231.7 L131.9,232.2 L131.3,232.7 L130.6,233.2 L130,233.7 L129.3,234.2 L128.7,234.6 L128.1,235.1 L127.5,235.5 L126.9,235.9 L126.3,236.4 L125.7,236.7 L125.2,237.1 L124.9,237.3 L124.9,237.5 L124.9,237.6 L124.7,237.7 L124,238.1 L122.7,238.7 L120.6,239.7 L117.8,241 L114.6,242.4 L111.1,243.9 L107.7,245.3 L104.5,246.3 L101.4,247.1 L98.3,247.8 L95.2,248.3 L92.1,248.6 L89.2,248.8 L86.5,248.8 L84,248.6 L81.6,248.1 L79.4,247.4 L77.3,246.7 L75.4,245.7 L73.5,244.7 L71.7,243.5 L70,242.1 L68.5,240.6 L67.1,239 L65.8,237.5 L64.8,236 L64,234.6 L63.3,233.2 L62.9,231.8 L62.6,230.4 L62.4,229.2 L62.5,228 L62.7,226.9 L63.1,225.9 L63.7,225 L64.5,224.2 L65.4,223.5 L66.5,223 L68,222.7 L69.9,222.5 L72,222.5 L74,222.5 L75.8,222.6 L77,222.6" fill="none" stroke="#ea541f" stroke-width="2.7" stroke-linecap="round" stroke-linejoin="round"/><path d="M207.3,131 L207.2,131.3 L207.2,131.7 L207.1,132.1 L207,132.7 L206.9,133.2 L206.9,133.8 L206.8,134.4 L206.7,135.1 L206.7,135.7 L206.7,136.4 L206.6,137.1 L206.6,137.8 L206.6,138.6 L206.7,139.3 L206.7,140.1 L206.8,140.9 L206.9,141.6 L206.9,142.4 L207,143.2 L207.2,143.9 L207.3,144.7 L207.4,145.4 L207.6,146.2 L207.7,147 L207.9,147.7 L208.1,148.5 L208.2,149.3 L208.4,150.1 L208.6,150.9 L208.8,151.7 L208.9,152.5 L209.1,153.4 L209.2,154.2 L209.4,155.1 L209.5,155.9 L209.6,156.8 L209.8,157.6 L209.9,158.5 L209.9,159.4 L210,160.2 L210.1,161.1 L210.1,161.9 L210.1,162.8 L210.1,163.6 L210.1,164.4 L210,165.3 L209.9,166.1 L209.8,166.9 L209.7,167.6 L209.6,168.4 L209.4,169.2 L209.2,169.9 L209,170.7 L208.7,171.4 L208.5,172.1 L208.2,172.8 L207.9,173.5 L207.5,174.2 L207.2,174.8 L206.8,175.5 L206.5,176.1 L206.1,176.7 L205.6,177.3 L205.2,177.9 L204.8,178.4 L204.3,179 L203.8,179.5 L203.4,180 L202.9,180.5 L202.4,181 L201.8,181.5 L201.3,181.9 L200.8,182.4 L200.2,182.8 L199.6,183.3 L199,183.7 L198.5,184.1 L197.9,184.5 L197.3,184.9 L196.7,185.2 L196.1,185.6 L195.6,186 L195,186.3 L194.4,186.7 L193.8,187 L193.2,187.3 L192.7,187.7 L192.1,188 L191.5,188.3 L190.9,188.7 L190.3,189 L189.7,189.3 L189.2,189.7 L188.6,190 L188,190.3 L187.4,190.7 L186.8,191 L186.2,191.4 L185.7,191.8 L185.1,192.1 L184.5,192.5 L183.9,192.9 L183.4,193.3 L182.8,193.7 L182.3,194.1 L181.8,194.5 L181.2,194.9 L180.7,195.3 L180.2,195.7 L179.8,196.1 L179.3,196.6 L178.8,197 L178.4,197.4 L177.9,197.9 L177.5,198.3 L177.1,198.7 L176.7,199.2 L176.3,199.6 L175.9,200.1 L175.5,200.6 L175.1,201.1 L174.7,201.5 L174.3,202 L173.9,202.5 L173.6,203.1 L173.2,203.6 L172.8,204.1 L172.5,204.7 L172.1,205.2 L171.8,205.8 L171.4,206.3 L171,206.9 L170.7,207.5 L170.3,208.1 L170,208.7 L169.6,209.3 L169.2,209.9 L168.9,210.5 L168.5,211.1 L168.1,211.7 L167.8,212.4 L167.4,213 L167,213.6 L166.6,214.2 L166.2,214.9 L165.8,215.5 L165.4,216.1 L165,216.8 L164.6,217.4 L164.2,218 L163.7,218.6 L163.3,219.2 L162.8,219.8 L162.4,220.4 L161.9,221 L161.4,221.6 L160.9,222.2 L160.4,222.7 L159.9,223.3 L159.4,223.8 L158.8,224.3 L158.3,224.9 L157.7,225.4 L157.2,225.9 L156.6,226.3 L156,226.8 L155.4,227.2 L154.8,227.7 L154.2,228.1 L153.5,228.5 L152.9,228.9 L152.2,229.3 L151.5,229.6 L150.8,230 L150.1,230.3 L149.5,230.6 L148.8,230.8 L148,231.1 L147.3,231.3 L146.6,231.6 L145.9,231.8 L145.2,232 L144.5,232.2 L143.8,232.3 L143.1,232.5 L142.4,232.6 L141.7,232.8 L141,232.9 L140.3,233 L139.6,233.1 L138.9,233.3 L138.2,233.4 L137.5,233.5 L136.7,233.6 L135.9,233.7 L135.2,233.9 L134.4,234 L133.6,234.1 L132.8,234.2 L132,234.3 L131.2,234.4 L130.4,234.6 L129.6,234.7 L128.8,234.8 L128,234.9 L127.3,235 L126.5,235.1 L125.8,235.3 L125.1,235.4 L124.5,235.5 L124.1,235.5 L123.8,235.4 L123.5,235.3 L123.2,235.2 L122.6,235.5 L121.6,236.1 L120.1,237 L118.3,238.4 L116.2,239.9 L114,241.6 L111.7,243.3 L109.5,245 L107.3,246.7 L104.9,248.6 L102.6,250.4 L100.2,252.3 L97.8,253.9 L95.5,255.3 L93.2,256.4 L91,257.4 L88.8,258.2 L86.6,258.9 L84.5,259.3 L82.5,259.6 L80.5,259.7 L78.6,259.5 L76.7,259.2 L74.9,258.8 L73.2,258.2 L71.7,257.6 L70.3,256.9 L69.1,256 L68,255 L67,253.9 L66.1,252.9 L65.4,252 L64.8,251.2 L64.4,250.4 L64.2,249.6 L64,248.9 L64.1,248.2 L64.2,247.6 L64.6,247 L65.2,246.4 L66,245.9 L66.8,245.5 L67.5,245.1 L68,244.8" fill="none" stroke="#ea541f" stroke-width="2.7" stroke-linecap="round" stroke-linejoin="round"/><path d="M209.1,131 L209.1,131.3 L209.2,131.7 L209.3,132.2 L209.4,132.7 L209.5,133.3 L209.6,133.8 L209.8,134.4 L209.9,135.1 L210.1,135.7 L210.3,136.4 L210.5,137.2 L210.7,137.9 L210.9,138.7 L211.1,139.4 L211.3,140.2 L211.5,141 L211.7,141.9 L211.9,142.7 L212.1,143.5 L212.3,144.3 L212.4,145.2 L212.6,146 L212.7,146.8 L212.8,147.6 L212.8,148.4 L212.8,149.2 L212.7,150 L212.7,150.8 L212.6,151.6 L212.5,152.4 L212.3,153.2 L212.1,154 L211.9,154.7 L211.7,155.5 L211.4,156.3 L211.1,157.1 L210.8,157.9 L210.5,158.7 L210.1,159.4 L209.7,160.2 L209.4,160.9 L209,161.6 L208.5,162.4 L208.1,163 L207.6,163.7 L207.2,164.4 L206.7,165.1 L206.2,165.7 L205.7,166.3 L205.2,166.9 L204.6,167.5 L204.1,168.1 L203.6,168.6 L203,169.2 L202.5,169.7 L201.9,170.3 L201.3,170.8 L200.8,171.3 L200.2,171.8 L199.6,172.2 L199,172.7 L198.5,173.2 L197.9,173.6 L197.3,174.1 L196.7,174.5 L196.2,175 L195.6,175.4 L195,175.9 L194.5,176.3 L193.9,176.8 L193.4,177.2 L192.9,177.6 L192.4,178.1 L191.9,178.5 L191.5,178.9 L191,179.4 L190.6,179.8 L190.2,180.2 L189.8,180.7 L189.4,181.1 L189,181.5 L188.7,182 L188.3,182.4 L188,182.8 L187.7,183.3 L187.3,183.7 L187,184.2 L186.7,184.6 L186.4,185.1 L186.1,185.5 L185.8,186 L185.5,186.5 L185.2,187 L185,187.5 L184.7,188.1 L184.4,188.6 L184.2,189.2 L183.9,189.7 L183.6,190.3 L183.4,190.9 L183.1,191.5 L182.9,192.1 L182.7,192.7 L182.4,193.4 L182.2,194 L182,194.6 L181.8,195.3 L181.6,195.9 L181.4,196.6 L181.1,197.2 L180.9,197.9 L180.7,198.6 L180.5,199.3 L180.3,199.9 L180.1,200.6 L179.9,201.3 L179.7,202 L179.4,202.6 L179.2,203.3 L179,204 L178.7,204.7 L178.5,205.4 L178.2,206 L177.9,206.7 L177.6,207.4 L177.3,208.1 L177,208.7 L176.7,209.4 L176.4,210.1 L176,210.7 L175.7,211.4 L175.3,212 L175,212.7 L174.6,213.3 L174.2,214 L173.8,214.6 L173.4,215.2 L172.9,215.8 L172.5,216.4 L172,217 L171.6,217.6 L171.1,218.1 L170.6,218.7 L170.1,219.2 L169.6,219.7 L169.1,220.3 L168.5,220.8 L168,221.3 L167.4,221.7 L166.9,222.2 L166.3,222.6 L165.7,223.1 L165.1,223.5 L164.4,223.9 L163.8,224.3 L163.2,224.6 L162.5,225 L161.9,225.3 L161.2,225.6 L160.5,225.9 L159.8,226.2 L159.2,226.5 L158.5,226.8 L157.8,227 L157,227.2 L156.3,227.5 L155.6,227.7 L154.9,227.8 L154.1,228 L153.4,228.2 L152.6,228.3 L151.9,228.5 L151.1,228.6 L150.3,228.7 L149.6,228.8 L148.8,228.9 L148,229 L147.3,229.1 L146.5,229.1 L145.7,229.2 L145,229.2 L144.2,229.3 L143.4,229.3 L142.7,229.4 L141.9,229.4 L141.2,229.5 L140.4,229.5 L139.7,229.6 L139,229.7 L138.2,229.7 L137.5,229.8 L136.8,229.9 L136,230 L135.2,230.1 L134.5,230.3 L133.7,230.4 L132.9,230.5 L132.1,230.7 L131.4,230.8 L130.6,231 L129.8,231.2 L129,231.4 L128.2,231.6 L127.5,231.8 L126.8,232 L126,232.2 L125.4,232.5 L124.7,232.7 L124.1,232.9 L123.5,233.1 L123,233.2 L122.8,233.2 L122.5,233.2 L122.2,233.3 L121.7,233.6 L120.8,234.2 L119.5,235.1 L117.8,236.3 L116,237.7 L114,239.2 L112,240.7 L110,242 L108.1,243.2 L106.1,244.4 L104,245.6 L102,246.6 L100,247.6 L98,248.5 L96,249.2 L93.9,249.9 L91.8,250.4 L89.8,250.9 L88.2,251.2 L87,251.5" fill="none" stroke="#ea541f" stroke-width="2.7" stroke-linecap="round" stroke-linejoin="round"/><path d="M209.9,131 L210,131.3 L210,131.7 L210.1,132.2 L210.2,132.7 L210.3,133.3 L210.3,133.8 L210.4,134.4 L210.4,135.1 L210.5,135.8 L210.5,136.5 L210.5,137.2 L210.5,137.9 L210.4,138.6 L210.3,139.4 L210.2,140.2 L210.1,141 L209.9,141.8 L209.8,142.6 L209.5,143.3 L209.3,144.1 L209,144.8 L208.7,145.6 L208.3,146.3 L208,147 L207.6,147.7 L207.2,148.4 L206.7,149.1 L206.3,149.7 L205.8,150.4 L205.4,151.1 L204.9,151.8 L204.5,152.5 L204,153.2 L203.5,153.9 L203,154.5 L202.6,155.2 L202.1,155.9 L201.7,156.6 L201.2,157.3 L200.8,157.9 L200.4,158.6 L200,159.3 L199.6,159.9 L199.3,160.6 L198.9,161.2 L198.6,161.8 L198.3,162.5 L198,163.1 L197.7,163.7 L197.5,164.3 L197.2,164.9 L197,165.5 L196.8,166.1 L196.6,166.7 L196.5,167.3 L196.3,168 L196.1,168.6 L196,169.2 L195.9,169.9 L195.8,170.5 L195.7,171.2 L195.6,171.9 L195.5,172.5 L195.5,173.2 L195.4,173.9 L195.4,174.6 L195.3,175.3 L195.3,176 L195.3,176.7 L195.3,177.5 L195.3,178.2 L195.4,178.9 L195.4,179.6 L195.4,180.3 L195.5,181.1 L195.5,181.8 L195.5,182.5 L195.6,183.2 L195.6,183.9 L195.6,184.6 L195.6,185.3 L195.6,186 L195.6,186.7 L195.6,187.4 L195.5,188 L195.5,188.7 L195.4,189.4 L195.4,190.1 L195.3,190.8 L195.2,191.5 L195.1,192.1 L194.9,192.8 L194.8,193.5 L194.6,194.2 L194.5,194.8 L194.3,195.5 L194.1,196.1 L193.8,196.8 L193.6,197.5 L193.4,198.1 L193.1,198.7 L192.8,199.4 L192.5,200 L192.1,200.6 L191.8,201.2 L191.4,201.8 L191,202.4 L190.5,203 L190.1,203.5 L189.6,204.1 L189.1,204.6 L188.6,205.2 L188.1,205.7 L187.5,206.2 L187,206.6 L186.4,207.1 L185.8,207.5 L185.1,208 L184.5,208.4 L183.8,208.8 L183.2,209.1 L182.5,209.5 L181.8,209.8 L181.1,210.1 L180.4,210.4 L179.7,210.7 L179,211 L178.3,211.2 L177.6,211.5 L176.8,211.7 L176.1,211.9 L175.4,212.1 L174.6,212.3 L173.9,212.5 L173.1,212.7 L172.4,212.8 L171.6,213 L170.9,213.2 L170.2,213.3 L169.4,213.5 L168.7,213.6 L168,213.8 L167.2,213.9 L166.5,214.1 L165.8,214.2 L165.1,214.4 L164.3,214.5 L163.6,214.7 L162.9,214.8 L162.2,215 L161.6,215.2 L160.9,215.3 L160.2,215.5 L159.5,215.7 L158.9,215.9 L158.2,216.1 L157.6,216.4 L156.9,216.6 L156.3,216.8 L155.7,217.1 L155,217.4 L154.4,217.7 L153.8,217.9 L153.2,218.3 L152.6,218.6 L152,218.9 L151.4,219.2 L150.8,219.6 L150.3,219.9 L149.7,220.3 L149.1,220.7 L148.6,221 L148,221.4 L147.4,221.8 L146.9,222.2 L146.3,222.7 L145.7,223.1 L145.1,223.5 L144.5,224 L143.9,224.4 L143.3,224.9 L142.7,225.4 L142.1,225.8 L141.5,226.3 L140.9,226.8 L140.3,227.3 L139.7,227.7 L139.2,228.2 L138.6,228.7 L138,229.2 L137.5,229.7 L136.9,230.2 L136.3,230.7 L135.7,231.2 L135.1,231.7 L134.5,232.2 L133.9,232.7 L133.2,233.2 L132.6,233.7 L132,234.2 L131.3,234.7 L130.7,235.2 L130,235.7 L129.4,236.2 L128.7,236.6 L128.1,237 L127.5,237.4 L126.9,237.7 L126.3,238.1 L125.8,238.4 L125.4,238.6 L125.2,238.7 L125,238.8 L124.7,239 L124.1,239.3 L123.2,239.8 L121.8,240.5 L120.1,241.4 L118.2,242.5 L116.1,243.6 L114,244.8 L112,246 L110,247.2 L108.1,248.5 L106,249.9 L104,251.2 L102,252.5 L100,253.5 L97.9,254.4 L95.6,255.2 L93.2,255.8 L91.1,256.4 L89.3,256.8 L88,257.2" fill="none" stroke="#ea541f" stroke-width="2.7" stroke-linecap="round" stroke-linejoin="round"/></g>
<line x1="60.5" y1="82.5" x2="47.5" y2="105.5" stroke="#3a3a3a" stroke-width="1.9"/>
<line x1="198.5" y1="196" x2="213.5" y2="222" stroke="#3a3a3a" stroke-width="1.9"/>
<g transform="translate(678 0)"><path d="M176.8,72 L175.7,73.4 L174.2,75.2 L172.5,77.3 L170.5,79.7 L168.4,82.3 L166.3,85.1 L164.1,88 L162,91 L159.9,94.1 L157.7,97.4 L155.5,100.8 L153.2,104.4 L150.9,108.2 L148.6,112 L146.3,116 L144,120 L141.8,124.1 L139.6,128.3 L137.4,132.6 L135.2,137 L133,141.5 L130.7,146.2 L128.4,151 L126,156 L123.5,161.3 L120.8,166.9 L117.9,172.7 L115.1,178.6 L112.3,184.5 L109.7,190.3 L107.2,195.8 L105,201 L103,205.8 L101.2,210.4 L99.6,214.9 L98.1,219.1 L96.7,223.2 L95.4,227.2 L94.2,231.2 L93,235 L91.9,238.8 L91,242.4 L90.2,246 L89.4,249.4 L88.7,252.8 L88.1,256 L87.5,259.1 L87,262 L86.5,264.9 L86.1,267.8 L85.7,270.5 L85.4,273.2 L85.2,275.6 L84.9,277.8 L84.8,279.6 L84.6,281 C84.5,289 87,294 92,294 C97.5,294 101,289 101.3,281 L101.3,281 L101.4,279.6 L101.5,277.7 L101.6,275.4 L101.7,272.9 L101.8,270.2 L102,267.4 L102.2,264.6 L102.5,262 L102.8,259.5 L103,257.1 L103.3,254.7 L103.6,252.2 L104,249.6 L104.5,246.8 L105.1,243.6 L106,240 L107,236 L108.2,231.6 L109.6,226.9 L111,221.9 L112.6,216.8 L114.3,211.6 L116.1,206.3 L118,201 L120.1,195.6 L122.4,190 L124.8,184.2 L127.4,178.3 L129.9,172.5 L132.4,166.8 L134.8,161.2 L137,156 L139,151 L140.9,146.2 L142.7,141.5 L144.4,137 L146.1,132.6 L147.8,128.3 L149.5,124.1 L151.2,120 L153,116 L154.8,112 L156.7,108.2 L158.5,104.4 L160.3,100.8 L162.1,97.4 L163.8,94.1 L165.5,91 L167.2,88 L168.9,85.1 L170.6,82.3 L172.2,79.7 L173.8,77.3 L175.2,75.2 L176.3,73.4 L177.2,72 Z" fill="#b4aaa8" fill-opacity="0.55" stroke="#a89c9a" stroke-opacity="0.8" stroke-width="1"/><path d="M36.5,131.9 L62,131.9 C80,133 95,145 100,163 C104,180 98,195 90,207 C82,220 73,235 70.5,256 C69,272 72,288 80,296 C86,302 97,303 104,296 C110,288 115,272 121.5,262 C126,252 124,240 124,228 C124,214 124,202 128,198 C131,195 135,195.5 140,196.5 C152,198.5 164,199 170,195 C178,190 179,178 172,169 C165,162 152,161 146,156 C140,150 141,142 148,137 C154,133 162,131.9 172,131.9" fill="none" stroke="#62a0da" stroke-width="3.4" stroke-linecap="round" stroke-linejoin="round"/><path d="M37.5,130.2 Q34,129.2 34,125.2 L34,115.4 C34,109.2 38.7,105.9 43.2,105.9 C47.8,105.9 52.5,109.2 52.5,115.4 L52.5,125.2 Q52.5,129.2 49,130.2 Z" fill="#accce9" stroke="#5b9bd6" stroke-width="1.15"/><path d="M38,129.7 Q35.5,128.7 35.5,125.7 L35.5,115.9 C35.5,110.4 39.7,107.4 43.2,107.4 C46.8,107.4 51,110.4 51,115.9 L51,125.7 Q51,128.7 48.5,129.7 Z" fill="none" stroke="#d0e1f1" stroke-width="1.2" stroke-opacity="0.6"/><clipPath id="cc7115_1302"><rect x="33.5" y="105.9" width="19.4" height="24.6"/></clipPath><circle cx="43.2" cy="123.3" r="7.4" fill="#4e93cd" clip-path="url(#cc7115_1302)"/><path d="M56.9,130.2 Q53.4,129.2 53.4,125.2 L53.4,115.4 C53.4,109.2 58.2,105.9 62.7,105.9 C67.2,105.9 72,109.2 72,115.4 L72,125.2 Q72,129.2 68.5,130.2 Z" fill="#accce9" stroke="#5b9bd6" stroke-width="1.15"/><path d="M57.4,129.7 Q54.9,128.7 54.9,125.7 L54.9,115.9 C54.9,110.4 59.2,107.4 62.7,107.4 C66.2,107.4 70.5,110.4 70.5,115.9 L70.5,125.7 Q70.5,128.7 68,129.7 Z" fill="none" stroke="#d0e1f1" stroke-width="1.2" stroke-opacity="0.6"/><clipPath id="cc7309_1302"><rect x="53" y="105.9" width="19.4" height="24.6"/></clipPath><circle cx="62.7" cy="123.3" r="7.4" fill="#4e93cd" clip-path="url(#cc7309_1302)"/><path d="M76.4,130.2 Q72.9,129.2 72.9,125.2 L72.9,115.4 C72.9,109.2 77.6,105.9 82.1,105.9 C86.7,105.9 91.4,109.2 91.4,115.4 L91.4,125.2 Q91.4,129.2 87.9,130.2 Z" fill="#abcce9" stroke="#5b9bd6" stroke-width="1.15"/><path d="M76.9,129.7 Q74.4,128.7 74.4,125.7 L74.4,115.9 C74.4,110.4 78.6,107.4 82.1,107.4 C85.7,107.4 89.9,110.4 89.9,115.9 L89.9,125.7 Q89.9,128.7 87.4,129.7 Z" fill="none" stroke="#cfe1f1" stroke-width="1.2" stroke-opacity="0.6"/><clipPath id="cc7504_1302"><rect x="72.4" y="105.9" width="19.4" height="24.6"/></clipPath><circle cx="82.1" cy="123.3" r="7.4" fill="#4e93cd" clip-path="url(#cc7504_1302)"/><path d="M161.9,130.2 Q158.4,129.2 158.4,125.2 L158.4,115.4 C158.4,109.2 163.2,105.9 167.7,105.9 C172.2,105.9 177,109.2 177,115.4 L177,125.2 Q177,129.2 173.5,130.2 Z" fill="#a8cbe9" stroke="#5b9bd6" stroke-width="1.15"/><path d="M162.4,129.7 Q159.9,128.7 159.9,125.7 L159.9,115.9 C159.9,110.4 164.2,107.4 167.7,107.4 C171.2,107.4 175.5,110.4 175.5,115.9 L175.5,125.7 Q175.5,128.7 173,129.7 Z" fill="none" stroke="#ccdff1" stroke-width="1.2" stroke-opacity="0.6"/><clipPath id="cc8360_1302"><rect x="158" y="105.9" width="19.4" height="24.6"/></clipPath><circle cx="167.7" cy="123.3" r="7.4" fill="#4e93cd" clip-path="url(#cc8360_1302)"/><path d="M181.4,130.2 Q177.9,129.2 177.9,125.2 L177.9,115.4 C177.9,109.2 182.6,105.9 187.2,105.9 C191.7,105.9 196.4,109.2 196.4,115.4 L196.4,125.2 Q196.4,129.2 192.9,130.2 Z" fill="#a8cae9" stroke="#5b9bd6" stroke-width="1.15"/><path d="M181.9,129.7 Q179.4,128.7 179.4,125.7 L179.4,115.9 C179.4,110.4 183.6,107.4 187.2,107.4 C190.7,107.4 194.9,110.4 194.9,115.9 L194.9,125.7 Q194.9,128.7 192.4,129.7 Z" fill="none" stroke="#ccdff1" stroke-width="1.2" stroke-opacity="0.6"/><clipPath id="cc8554_1302"><rect x="177.4" y="105.9" width="19.4" height="24.6"/></clipPath><circle cx="187.2" cy="123.3" r="7.4" fill="#4e93cd" clip-path="url(#cc8554_1302)"/><path d="M200.8,130.2 Q197.3,129.2 197.3,125.2 L197.3,115.4 C197.3,109.2 202.1,105.9 206.6,105.9 C211.2,105.9 215.9,109.2 215.9,115.4 L215.9,125.2 Q215.9,129.2 212.4,130.2 Z" fill="#a7cae9" stroke="#5b9bd6" stroke-width="1.15"/><path d="M201.3,129.7 Q198.8,128.7 198.8,125.7 L198.8,115.9 C198.8,110.4 203.1,107.4 206.6,107.4 C210.2,107.4 214.4,110.4 214.4,115.9 L214.4,125.7 Q214.4,128.7 211.9,129.7 Z" fill="none" stroke="#cbdff1" stroke-width="1.2" stroke-opacity="0.6"/><clipPath id="cc8749_1302"><rect x="196.9" y="105.9" width="19.4" height="24.6"/></clipPath><circle cx="206.6" cy="123.3" r="7.4" fill="#4e93cd" clip-path="url(#cc8749_1302)"/><path d="M220.3,130.2 Q216.8,129.2 216.8,125.2 L216.8,115.4 C216.8,109.2 221.5,105.9 226.1,105.9 C230.6,105.9 235.3,109.2 235.3,115.4 L235.3,125.2 Q235.3,129.2 231.8,130.2 Z" fill="#a7cae9" stroke="#5b9bd6" stroke-width="1.15"/><path d="M220.8,129.7 Q218.3,128.7 218.3,125.7 L218.3,115.9 C218.3,110.4 222.5,107.4 226.1,107.4 C229.6,107.4 233.8,110.4 233.8,115.9 L233.8,125.7 Q233.8,128.7 231.3,129.7 Z" fill="none" stroke="#cbdff1" stroke-width="1.2" stroke-opacity="0.6"/><clipPath id="cc8943_1302"><rect x="216.3" y="105.9" width="19.4" height="24.6"/></clipPath><circle cx="226.1" cy="123.3" r="7.4" fill="#4e93cd" clip-path="url(#cc8943_1302)"/><path d="M239.8,130.2 Q236.2,129.2 236.2,125.2 L236.2,115.4 C236.2,109.2 241,105.9 245.5,105.9 C250.1,105.9 254.8,109.2 254.8,115.4 L254.8,125.2 Q254.8,129.2 251.3,130.2 Z" fill="#a6cae9" stroke="#5b9bd6" stroke-width="1.15"/><path d="M240.2,129.7 Q237.8,128.7 237.8,125.7 L237.8,115.9 C237.8,110.4 242,107.4 245.5,107.4 C249.1,107.4 253.3,110.4 253.3,115.9 L253.3,125.7 Q253.3,128.7 250.8,129.7 Z" fill="none" stroke="#cadef1" stroke-width="1.2" stroke-opacity="0.6"/><clipPath id="cc9138_1302"><rect x="235.8" y="105.9" width="19.4" height="24.6"/></clipPath><circle cx="245.5" cy="123.3" r="7.4" fill="#4e93cd" clip-path="url(#cc9138_1302)"/><path d="M259.2,130.2 Q255.7,129.2 255.7,125.2 L255.7,115.4 C255.7,109.2 260.4,105.9 265,105.9 C269.5,105.9 274.2,109.2 274.2,115.4 L274.2,125.2 Q274.2,129.2 270.8,130.2 Z" fill="#a5c9e9" stroke="#5b9bd6" stroke-width="1.15"/><path d="M259.7,129.7 Q257.2,128.7 257.2,125.7 L257.2,115.9 C257.2,110.4 261.4,107.4 265,107.4 C268.5,107.4 272.8,110.4 272.8,115.9 L272.8,125.7 Q272.8,128.7 270.2,129.7 Z" fill="none" stroke="#c9def1" stroke-width="1.2" stroke-opacity="0.6"/><clipPath id="cc9332_1302"><rect x="255.2" y="105.9" width="19.4" height="24.6"/></clipPath><circle cx="265" cy="123.3" r="7.4" fill="#4e93cd" clip-path="url(#cc9332_1302)"/><line x1="158.5" y1="131.89999999999998" x2="280.5" y2="131.89999999999998" stroke="#62a0da" stroke-width="3.7" stroke-linecap="round"/><clipPath id="sc2"><path d="M98,45.9 L334.7,45.9 L334.7,116 L274.7,114.5 A9.7,7.6 0 0 0 255.2,114.5 A9.7,7.6 0 0 0 235.8,114.5 A9.7,7.6 0 0 0 216.3,114.5 A9.7,7.6 0 0 0 196.9,114.5 A9.7,7.6 0 0 0 177.4,114.5 A9.7,7.6 0 0 0 158,114.5 L98,116 Z"/></clipPath><g clip-path="url(#sc2)"><g transform="translate(187 96) scale(1 1)" opacity="0.85"><path d="M-34.5,15 C-27,11 -23,3 -19,-2.5 C-15,-8 -10,-11.8 0,-11.8 C9,-11.8 13,-8 16,-4 C20,2 23,8 29.5,12.4 L24,21 L-24,21 Z" fill="url(#tr)" stroke="#f29a2b" stroke-width="1"/><circle cx="0" cy="0" r="5.7" fill="#fbb136"/></g><g transform="translate(245 96) scale(-1 1)" opacity="0.85"><path d="M-34.5,15 C-27,11 -23,3 -19,-2.5 C-15,-8 -10,-11.8 0,-11.8 C9,-11.8 13,-8 16,-4 C20,2 23,8 29.5,12.4 L24,21 L-24,21 Z" fill="url(#tr)" stroke="#f29a2b" stroke-width="1"/><circle cx="0" cy="0" r="5.7" fill="#fbb136"/></g><g transform="translate(228 95.5) scale(1 1)" opacity="0.85"><path d="M-34.5,15 C-27,11 -23,3 -19,-2.5 C-15,-8 -10,-11.8 0,-11.8 C9,-11.8 13,-8 16,-4 C20,2 23,8 29.5,12.4 L24,21 L-24,21 Z" fill="url(#tr)" stroke="#f29a2b" stroke-width="1"/><circle cx="0" cy="0" r="5.7" fill="#fbb136"/></g></g><path d="M208.2,131 L208.1,131.3 L208.1,131.7 L208,132.2 L207.9,132.7 L207.8,133.3 L207.6,133.8 L207.5,134.4 L207.3,135.1 L207.2,135.7 L207,136.4 L206.8,137.1 L206.6,137.8 L206.4,138.6 L206.1,139.3 L205.9,140.1 L205.6,140.8 L205.3,141.6 L205.1,142.3 L204.8,143 L204.5,143.7 L204.2,144.4 L203.9,145 L203.6,145.7 L203.3,146.4 L203.1,147.1 L202.8,147.7 L202.6,148.4 L202.4,149.1 L202.2,149.8 L202,150.5 L201.8,151.2 L201.7,151.9 L201.6,152.7 L201.4,153.4 L201.3,154.2 L201.2,154.9 L201.1,155.7 L201,156.4 L201,157.2 L200.9,158 L200.8,158.7 L200.8,159.5 L200.8,160.2 L200.7,161 L200.7,161.7 L200.7,162.5 L200.7,163.2 L200.7,164 L200.7,164.7 L200.7,165.4 L200.7,166.1 L200.8,166.9 L200.8,167.6 L200.8,168.3 L200.8,169.1 L200.8,169.8 L200.8,170.5 L200.8,171.3 L200.8,172 L200.8,172.8 L200.8,173.5 L200.8,174.3 L200.8,175 L200.8,175.8 L200.8,176.5 L200.8,177.2 L200.8,178 L200.8,178.7 L200.8,179.5 L200.7,180.2 L200.7,180.9 L200.7,181.6 L200.6,182.3 L200.5,183 L200.5,183.7 L200.4,184.4 L200.3,185.1 L200.1,185.7 L200,186.4 L199.9,187 L199.7,187.6 L199.5,188.3 L199.3,188.9 L199.1,189.5 L198.9,190.1 L198.7,190.7 L198.5,191.3 L198.2,191.9 L197.9,192.5 L197.7,193.1 L197.4,193.7 L197.1,194.2 L196.7,194.8 L196.4,195.4 L196,195.9 L195.7,196.5 L195.3,197 L194.9,197.6 L194.5,198.1 L194.1,198.6 L193.6,199.1 L193.2,199.7 L192.7,200.2 L192.2,200.7 L191.7,201.2 L191.2,201.7 L190.7,202.2 L190.1,202.7 L189.6,203.1 L189,203.6 L188.4,204 L187.8,204.5 L187.2,204.9 L186.6,205.3 L186,205.8 L185.3,206.2 L184.7,206.5 L184,206.9 L183.4,207.3 L182.7,207.6 L182,208 L181.3,208.3 L180.7,208.6 L180,208.9 L179.3,209.2 L178.6,209.4 L177.9,209.7 L177.2,210 L176.5,210.2 L175.8,210.5 L175.1,210.7 L174.4,211 L173.7,211.2 L173,211.4 L172.3,211.6 L171.6,211.8 L170.9,212.1 L170.2,212.3 L169.5,212.5 L168.8,212.7 L168.1,212.9 L167.5,213.1 L166.8,213.3 L166.1,213.5 L165.4,213.7 L164.7,213.9 L164.1,214.1 L163.4,214.3 L162.7,214.5 L162.1,214.7 L161.4,215 L160.8,215.2 L160.1,215.4 L159.5,215.6 L158.8,215.9 L158.2,216.1 L157.6,216.4 L156.9,216.6 L156.3,216.9 L155.7,217.2 L155.1,217.4 L154.5,217.7 L153.8,218 L153.2,218.3 L152.6,218.6 L152,218.9 L151.4,219.2 L150.8,219.6 L150.2,219.9 L149.7,220.2 L149.1,220.5 L148.5,220.9 L147.9,221.2 L147.3,221.6 L146.7,221.9 L146.1,222.3 L145.5,222.6 L144.9,223 L144.3,223.4 L143.7,223.8 L143,224.2 L142.4,224.6 L141.8,225 L141.2,225.4 L140.5,225.8 L139.9,226.2 L139.3,226.7 L138.7,227.1 L138.1,227.5 L137.5,227.9 L136.9,228.4 L136.3,228.8 L135.7,229.3 L135.1,229.8 L134.5,230.3 L133.8,230.7 L133.2,231.2 L132.6,231.7 L131.9,232.2 L131.3,232.7 L130.6,233.2 L130,233.7 L129.3,234.2 L128.7,234.6 L128.1,235.1 L127.5,235.5 L126.9,235.9 L126.3,236.4 L125.7,236.7 L125.2,237.1 L124.9,237.3 L124.9,237.5 L124.9,237.6 L124.7,237.7 L124,238.1 L122.7,238.7 L120.6,239.7 L117.8,241 L114.6,242.4 L111.1,243.9 L107.7,245.3 L104.5,246.3 L101.4,247.1 L98.3,247.8 L95.2,248.3 L92.1,248.6 L89.2,248.8 L86.5,248.8 L84,248.6 L81.6,248.1 L79.4,247.4 L77.3,246.7 L75.4,245.7 L73.5,244.7 L71.7,243.5 L70,242.1 L68.5,240.6 L67.1,239 L65.8,237.5 L64.8,236 L64,234.6 L63.3,233.2 L62.9,231.8 L62.6,230.4 L62.4,229.2 L62.5,228 L62.7,226.9 L63.1,225.9 L63.7,225 L64.5,224.2 L65.4,223.5 L66.5,223 L68,222.7 L69.9,222.5 L72,222.5 L74,222.5 L75.8,222.6 L77,222.6" fill="none" stroke="#1567bf" stroke-width="2.7" stroke-linecap="round" stroke-linejoin="round"/><path d="M207.3,131 L207.2,131.3 L207.2,131.7 L207.1,132.1 L207,132.7 L206.9,133.2 L206.9,133.8 L206.8,134.4 L206.7,135.1 L206.7,135.7 L206.7,136.4 L206.6,137.1 L206.6,137.8 L206.6,138.6 L206.7,139.3 L206.7,140.1 L206.8,140.9 L206.9,141.6 L206.9,142.4 L207,143.2 L207.2,143.9 L207.3,144.7 L207.4,145.4 L207.6,146.2 L207.7,147 L207.9,147.7 L208.1,148.5 L208.2,149.3 L208.4,150.1 L208.6,150.9 L208.8,151.7 L208.9,152.5 L209.1,153.4 L209.2,154.2 L209.4,155.1 L209.5,155.9 L209.6,156.8 L209.8,157.6 L209.9,158.5 L209.9,159.4 L210,160.2 L210.1,161.1 L210.1,161.9 L210.1,162.8 L210.1,163.6 L210.1,164.4 L210,165.3 L209.9,166.1 L209.8,166.9 L209.7,167.6 L209.6,168.4 L209.4,169.2 L209.2,169.9 L209,170.7 L208.7,171.4 L208.5,172.1 L208.2,172.8 L207.9,173.5 L207.5,174.2 L207.2,174.8 L206.8,175.5 L206.5,176.1 L206.1,176.7 L205.6,177.3 L205.2,177.9 L204.8,178.4 L204.3,179 L203.8,179.5 L203.4,180 L202.9,180.5 L202.4,181 L201.8,181.5 L201.3,181.9 L200.8,182.4 L200.2,182.8 L199.6,183.3 L199,183.7 L198.5,184.1 L197.9,184.5 L197.3,184.9 L196.7,185.2 L196.1,185.6 L195.6,186 L195,186.3 L194.4,186.7 L193.8,187 L193.2,187.3 L192.7,187.7 L192.1,188 L191.5,188.3 L190.9,188.7 L190.3,189 L189.7,189.3 L189.2,189.7 L188.6,190 L188,190.3 L187.4,190.7 L186.8,191 L186.2,191.4 L185.7,191.8 L185.1,192.1 L184.5,192.5 L183.9,192.9 L183.4,193.3 L182.8,193.7 L182.3,194.1 L181.8,194.5 L181.2,194.9 L180.7,195.3 L180.2,195.7 L179.8,196.1 L179.3,196.6 L178.8,197 L178.4,197.4 L177.9,197.9 L177.5,198.3 L177.1,198.7 L176.7,199.2 L176.3,199.6 L175.9,200.1 L175.5,200.6 L175.1,201.1 L174.7,201.5 L174.3,202 L173.9,202.5 L173.6,203.1 L173.2,203.6 L172.8,204.1 L172.5,204.7 L172.1,205.2 L171.8,205.8 L171.4,206.3 L171,206.9 L170.7,207.5 L170.3,208.1 L170,208.7 L169.6,209.3 L169.2,209.9 L168.9,210.5 L168.5,211.1 L168.1,211.7 L167.8,212.4 L167.4,213 L167,213.6 L166.6,214.2 L166.2,214.9 L165.8,215.5 L165.4,216.1 L165,216.8 L164.6,217.4 L164.2,218 L163.7,218.6 L163.3,219.2 L162.8,219.8 L162.4,220.4 L161.9,221 L161.4,221.6 L160.9,222.2 L160.4,222.7 L159.9,223.3 L159.4,223.8 L158.8,224.3 L158.3,224.9 L157.7,225.4 L157.2,225.9 L156.6,226.3 L156,226.8 L155.4,227.2 L154.8,227.7 L154.2,228.1 L153.5,228.5 L152.9,228.9 L152.2,229.3 L151.5,229.6 L150.8,230 L150.1,230.3 L149.5,230.6 L148.8,230.8 L148,231.1 L147.3,231.3 L146.6,231.6 L145.9,231.8 L145.2,232 L144.5,232.2 L143.8,232.3 L143.1,232.5 L142.4,232.6 L141.7,232.8 L141,232.9 L140.3,233 L139.6,233.1 L138.9,233.3 L138.2,233.4 L137.5,233.5 L136.7,233.6 L135.9,233.7 L135.2,233.9 L134.4,234 L133.6,234.1 L132.8,234.2 L132,234.3 L131.2,234.4 L130.4,234.6 L129.6,234.7 L128.8,234.8 L128,234.9 L127.3,235 L126.5,235.1 L125.8,235.3 L125.1,235.4 L124.5,235.5 L124.1,235.5 L123.8,235.4 L123.5,235.3 L123.2,235.2 L122.6,235.5 L121.6,236.1 L120.1,237 L118.3,238.4 L116.2,239.9 L114,241.6 L111.7,243.3 L109.5,245 L107.3,246.7 L104.9,248.6 L102.6,250.4 L100.2,252.3 L97.8,253.9 L95.5,255.3 L93.2,256.4 L91,257.4 L88.8,258.2 L86.6,258.9 L84.5,259.3 L82.5,259.6 L80.5,259.7 L78.6,259.5 L76.7,259.2 L74.9,258.8 L73.2,258.2 L71.7,257.6 L70.3,256.9 L69.1,256 L68,255 L67,253.9 L66.1,252.9 L65.4,252 L64.8,251.2 L64.4,250.4 L64.2,249.6 L64,248.9 L64.1,248.2 L64.2,247.6 L64.6,247 L65.2,246.4 L66,245.9 L66.8,245.5 L67.5,245.1 L68,244.8" fill="none" stroke="#1567bf" stroke-width="2.7" stroke-linecap="round" stroke-linejoin="round"/><path d="M209.1,131 L209.1,131.3 L209.2,131.7 L209.3,132.2 L209.4,132.7 L209.5,133.3 L209.6,133.8 L209.8,134.4 L209.9,135.1 L210.1,135.7 L210.3,136.4 L210.5,137.2 L210.7,137.9 L210.9,138.7 L211.1,139.4 L211.3,140.2 L211.5,141 L211.7,141.9 L211.9,142.7 L212.1,143.5 L212.3,144.3 L212.4,145.2 L212.6,146 L212.7,146.8 L212.8,147.6 L212.8,148.4 L212.8,149.2 L212.7,150 L212.7,150.8 L212.6,151.6 L212.5,152.4 L212.3,153.2 L212.1,154 L211.9,154.7 L211.7,155.5 L211.4,156.3 L211.1,157.1 L210.8,157.9 L210.5,158.7 L210.1,159.4 L209.7,160.2 L209.4,160.9 L209,161.6 L208.5,162.4 L208.1,163 L207.6,163.7 L207.2,164.4 L206.7,165.1 L206.2,165.7 L205.7,166.3 L205.2,166.9 L204.6,167.5 L204.1,168.1 L203.6,168.6 L203,169.2 L202.5,169.7 L201.9,170.3 L201.3,170.8 L200.8,171.3 L200.2,171.8 L199.6,172.2 L199,172.7 L198.5,173.2 L197.9,173.6 L197.3,174.1 L196.7,174.5 L196.2,175 L195.6,175.4 L195,175.9 L194.5,176.3 L193.9,176.8 L193.4,177.2 L192.9,177.6 L192.4,178.1 L191.9,178.5 L191.5,178.9 L191,179.4 L190.6,179.8 L190.2,180.2 L189.8,180.7 L189.4,181.1 L189,181.5 L188.7,182 L188.3,182.4 L188,182.8 L187.7,183.3 L187.3,183.7 L187,184.2 L186.7,184.6 L186.4,185.1 L186.1,185.5 L185.8,186 L185.5,186.5 L185.2,187 L185,187.5 L184.7,188.1 L184.4,188.6 L184.2,189.2 L183.9,189.7 L183.6,190.3 L183.4,190.9 L183.1,191.5 L182.9,192.1 L182.7,192.7 L182.4,193.4 L182.2,194 L182,194.6 L181.8,195.3 L181.6,195.9 L181.4,196.6 L181.1,197.2 L180.9,197.9 L180.7,198.6 L180.5,199.3 L180.3,199.9 L180.1,200.6 L179.9,201.3 L179.7,202 L179.4,202.6 L179.2,203.3 L179,204 L178.7,204.7 L178.5,205.4 L178.2,206 L177.9,206.7 L177.6,207.4 L177.3,208.1 L177,208.7 L176.7,209.4 L176.4,210.1 L176,210.7 L175.7,211.4 L175.3,212 L175,212.7 L174.6,213.3 L174.2,214 L173.8,214.6 L173.4,215.2 L172.9,215.8 L172.5,216.4 L172,217 L171.6,217.6 L171.1,218.1 L170.6,218.7 L170.1,219.2 L169.6,219.7 L169.1,220.3 L168.5,220.8 L168,221.3 L167.4,221.7 L166.9,222.2 L166.3,222.6 L165.7,223.1 L165.1,223.5 L164.4,223.9 L163.8,224.3 L163.2,224.6 L162.5,225 L161.9,225.3 L161.2,225.6 L160.5,225.9 L159.8,226.2 L159.2,226.5 L158.5,226.8 L157.8,227 L157,227.2 L156.3,227.5 L155.6,227.7 L154.9,227.8 L154.1,228 L153.4,228.2 L152.6,228.3 L151.9,228.5 L151.1,228.6 L150.3,228.7 L149.6,228.8 L148.8,228.9 L148,229 L147.3,229.1 L146.5,229.1 L145.7,229.2 L145,229.2 L144.2,229.3 L143.4,229.3 L142.7,229.4 L141.9,229.4 L141.2,229.5 L140.4,229.5 L139.7,229.6 L139,229.7 L138.2,229.7 L137.5,229.8 L136.8,229.9 L136,230 L135.2,230.1 L134.5,230.3 L133.7,230.4 L132.9,230.5 L132.1,230.7 L131.4,230.8 L130.6,231 L129.8,231.2 L129,231.4 L128.2,231.6 L127.5,231.8 L126.8,232 L126,232.2 L125.4,232.5 L124.7,232.7 L124.1,232.9 L123.5,233.1 L123,233.2 L122.8,233.2 L122.5,233.2 L122.2,233.3 L121.7,233.6 L120.8,234.2 L119.5,235.1 L117.8,236.3 L116,237.7 L114,239.2 L112,240.7 L110,242 L108.1,243.2 L106.1,244.4 L104,245.6 L102,246.6 L100,247.6 L98,248.5 L96,249.2 L93.9,249.9 L91.8,250.4 L89.8,250.9 L88.2,251.2 L87,251.5" fill="none" stroke="#1567bf" stroke-width="2.7" stroke-linecap="round" stroke-linejoin="round"/><path d="M209.9,131 L210,131.3 L210,131.7 L210.1,132.2 L210.2,132.7 L210.3,133.3 L210.3,133.8 L210.4,134.4 L210.4,135.1 L210.5,135.8 L210.5,136.5 L210.5,137.2 L210.5,137.9 L210.4,138.6 L210.3,139.4 L210.2,140.2 L210.1,141 L209.9,141.8 L209.8,142.6 L209.5,143.3 L209.3,144.1 L209,144.8 L208.7,145.6 L208.3,146.3 L208,147 L207.6,147.7 L207.2,148.4 L206.7,149.1 L206.3,149.7 L205.8,150.4 L205.4,151.1 L204.9,151.8 L204.5,152.5 L204,153.2 L203.5,153.9 L203,154.5 L202.6,155.2 L202.1,155.9 L201.7,156.6 L201.2,157.3 L200.8,157.9 L200.4,158.6 L200,159.3 L199.6,159.9 L199.3,160.6 L198.9,161.2 L198.6,161.8 L198.3,162.5 L198,163.1 L197.7,163.7 L197.5,164.3 L197.2,164.9 L197,165.5 L196.8,166.1 L196.6,166.7 L196.5,167.3 L196.3,168 L196.1,168.6 L196,169.2 L195.9,169.9 L195.8,170.5 L195.7,171.2 L195.6,171.9 L195.5,172.5 L195.5,173.2 L195.4,173.9 L195.4,174.6 L195.3,175.3 L195.3,176 L195.3,176.7 L195.3,177.5 L195.3,178.2 L195.4,178.9 L195.4,179.6 L195.4,180.3 L195.5,181.1 L195.5,181.8 L195.5,182.5 L195.6,183.2 L195.6,183.9 L195.6,184.6 L195.6,185.3 L195.6,186 L195.6,186.7 L195.6,187.4 L195.5,188 L195.5,188.7 L195.4,189.4 L195.4,190.1 L195.3,190.8 L195.2,191.5 L195.1,192.1 L194.9,192.8 L194.8,193.5 L194.6,194.2 L194.5,194.8 L194.3,195.5 L194.1,196.1 L193.8,196.8 L193.6,197.5 L193.4,198.1 L193.1,198.7 L192.8,199.4 L192.5,200 L192.1,200.6 L191.8,201.2 L191.4,201.8 L191,202.4 L190.5,203 L190.1,203.5 L189.6,204.1 L189.1,204.6 L188.6,205.2 L188.1,205.7 L187.5,206.2 L187,206.6 L186.4,207.1 L185.8,207.5 L185.1,208 L184.5,208.4 L183.8,208.8 L183.2,209.1 L182.5,209.5 L181.8,209.8 L181.1,210.1 L180.4,210.4 L179.7,210.7 L179,211 L178.3,211.2 L177.6,211.5 L176.8,211.7 L176.1,211.9 L175.4,212.1 L174.6,212.3 L173.9,212.5 L173.1,212.7 L172.4,212.8 L171.6,213 L170.9,213.2 L170.2,213.3 L169.4,213.5 L168.7,213.6 L168,213.8 L167.2,213.9 L166.5,214.1 L165.8,214.2 L165.1,214.4 L164.3,214.5 L163.6,214.7 L162.9,214.8 L162.2,215 L161.6,215.2 L160.9,215.3 L160.2,215.5 L159.5,215.7 L158.9,215.9 L158.2,216.1 L157.6,216.4 L156.9,216.6 L156.3,216.8 L155.7,217.1 L155,217.4 L154.4,217.7 L153.8,217.9 L153.2,218.3 L152.6,218.6 L152,218.9 L151.4,219.2 L150.8,219.6 L150.3,219.9 L149.7,220.3 L149.1,220.7 L148.6,221 L148,221.4 L147.4,221.8 L146.9,222.2 L146.3,222.7 L145.7,223.1 L145.1,223.5 L144.5,224 L143.9,224.4 L143.3,224.9 L142.7,225.4 L142.1,225.8 L141.5,226.3 L140.9,226.8 L140.3,227.3 L139.7,227.7 L139.2,228.2 L138.6,228.7 L138,229.2 L137.5,229.7 L136.9,230.2 L136.3,230.7 L135.7,231.2 L135.1,231.7 L134.5,232.2 L133.9,232.7 L133.2,233.2 L132.6,233.7 L132,234.2 L131.3,234.7 L130.7,235.2 L130,235.7 L129.4,236.2 L128.7,236.6 L128.1,237 L127.5,237.4 L126.9,237.7 L126.3,238.1 L125.8,238.4 L125.4,238.6 L125.2,238.7 L125,238.8 L124.7,239 L124.1,239.3 L123.2,239.8 L121.8,240.5 L120.1,241.4 L118.2,242.5 L116.1,243.6 L114,244.8 L112,246 L110,247.2 L108.1,248.5 L106,249.9 L104,251.2 L102,252.5 L100,253.5 L97.9,254.4 L95.6,255.2 L93.2,255.8 L91.1,256.4 L89.3,256.8 L88,257.2" fill="none" stroke="#1567bf" stroke-width="2.7" stroke-linecap="round" stroke-linejoin="round"/></g>
<line x1="156.4" y1="380" x2="156.4" y2="452.3" stroke="#e8182c" stroke-width="5.1" stroke-dasharray="7.4 11.6" stroke-linecap="round"/><path d="M156.4,470.8 L146.1,447.3 L156.4,452.8 L166.70000000000002,447.3 Z" fill="#e8182c"/>
<line x1="156.4" y1="685" x2="156.4" y2="770.5" stroke="#e8182c" stroke-width="5.1" stroke-dasharray="7.4 11.6" stroke-linecap="round"/><path d="M156.4,789 L146.1,765.5 L156.4,771.0 L166.70000000000002,765.5 Z" fill="#e8182c"/>
<line x1="834.3" y1="380" x2="834.3" y2="452.3" stroke="#2626f2" stroke-width="5.1" stroke-dasharray="7.4 11.6" stroke-linecap="round"/><path d="M834.3,470.8 L824.0,447.3 L834.3,452.8 L844.5999999999999,447.3 Z" fill="#2626f2"/>
<line x1="834.3" y1="685" x2="834.3" y2="770.5" stroke="#2626f2" stroke-width="5.1" stroke-dasharray="7.4 11.6" stroke-linecap="round"/><path d="M834.3,789 L824.0,765.5 L834.3,771.0 L844.5999999999999,765.5 Z" fill="#2626f2"/>
<path d="M42.6,534.2 Q39.1,533.2 39.1,529.2 L39.1,519.4 C39.1,513.2 43.8,509.9 48.3,509.9 C52.8,509.9 57.6,513.2 57.6,519.4 L57.6,529.2 Q57.6,533.2 54.1,534.2 Z" fill="#b2c7e1" stroke="#5b9bd6" stroke-width="1.15"/><path d="M43.1,533.7 Q40.6,532.7 40.6,529.7 L40.6,519.9 C40.6,514.4 44.8,511.4 48.3,511.4 C51.8,511.4 56.1,514.4 56.1,519.9 L56.1,529.7 Q56.1,532.7 53.6,533.7 Z" fill="none" stroke="#d6dce9" stroke-width="1.2" stroke-opacity="0.6"/><clipPath id="cc386_5342"><rect x="38.6" y="509.9" width="19.4" height="24.6"/></clipPath><circle cx="48.3" cy="527.3" r="7.4" fill="#4e93cd" clip-path="url(#cc386_5342)"/><path d="M62,534.2 Q58.5,533.2 58.5,529.2 L58.5,519.4 C58.5,513.2 63.2,509.9 67.8,509.9 C72.3,509.9 77,513.2 77,519.4 L77,529.2 Q77,533.2 73.5,534.2 Z" fill="#b2c8e1" stroke="#5b9bd6" stroke-width="1.15"/><path d="M62.5,533.7 Q60,532.7 60,529.7 L60,519.9 C60,514.4 64.2,511.4 67.8,511.4 C71.3,511.4 75.5,514.4 75.5,519.9 L75.5,529.7 Q75.5,532.7 73,533.7 Z" fill="none" stroke="#d6dde9" stroke-width="1.2" stroke-opacity="0.6"/><clipPath id="cc580_5342"><rect x="58" y="509.9" width="19.4" height="24.6"/></clipPath><circle cx="67.8" cy="527.3" r="7.4" fill="#4e93cd" clip-path="url(#cc580_5342)"/><path d="M81.5,534.2 Q78,533.2 78,529.2 L78,519.4 C78,513.2 82.7,509.9 87.2,509.9 C91.8,509.9 96.5,513.2 96.5,519.4 L96.5,529.2 Q96.5,533.2 93,534.2 Z" fill="#b2c8e2" stroke="#5b9bd6" stroke-width="1.15"/><path d="M82,533.7 Q79.5,532.7 79.5,529.7 L79.5,519.9 C79.5,514.4 83.7,511.4 87.2,511.4 C90.8,511.4 95,514.4 95,519.9 L95,529.7 Q95,532.7 92.5,533.7 Z" fill="none" stroke="#d6ddea" stroke-width="1.2" stroke-opacity="0.6"/><clipPath id="cc775_5342"><rect x="77.5" y="509.9" width="19.4" height="24.6"/></clipPath><circle cx="87.2" cy="527.3" r="7.4" fill="#4e93cd" clip-path="url(#cc775_5342)"/><path d="M100.9,534.2 Q97.4,533.2 97.4,529.2 L97.4,519.4 C97.4,513.2 102.1,509.9 106.7,509.9 C111.2,509.9 115.9,513.2 115.9,519.4 L115.9,529.2 Q115.9,533.2 112.4,534.2 Z" fill="#b2c9e2" stroke="#5b9bd6" stroke-width="1.15"/><path d="M101.4,533.7 Q98.9,532.7 98.9,529.7 L98.9,519.9 C98.9,514.4 103.1,511.4 106.7,511.4 C110.2,511.4 114.4,514.4 114.4,519.9 L114.4,529.7 Q114.4,532.7 111.9,533.7 Z" fill="none" stroke="#d6ddea" stroke-width="1.2" stroke-opacity="0.6"/><clipPath id="cc969_5342"><rect x="96.9" y="509.9" width="19.4" height="24.6"/></clipPath><circle cx="106.7" cy="527.3" r="7.4" fill="#4e93cd" clip-path="url(#cc969_5342)"/><path d="M120.4,534.2 Q116.9,533.2 116.9,529.2 L116.9,519.4 C116.9,513.2 121.6,509.9 126.1,509.9 C130.7,509.9 135.4,513.2 135.4,519.4 L135.4,529.2 Q135.4,533.2 131.9,534.2 Z" fill="#b3c9e3" stroke="#5b9bd6" stroke-width="1.15"/><path d="M120.9,533.7 Q118.4,532.7 118.4,529.7 L118.4,519.9 C118.4,514.4 122.6,511.4 126.1,511.4 C129.7,511.4 133.9,514.4 133.9,519.9 L133.9,529.7 Q133.9,532.7 131.4,533.7 Z" fill="none" stroke="#d7deeb" stroke-width="1.2" stroke-opacity="0.6"/><clipPath id="cc1164_5342"><rect x="116.4" y="509.9" width="19.4" height="24.6"/></clipPath><circle cx="126.1" cy="527.3" r="7.4" fill="#4e93cd" clip-path="url(#cc1164_5342)"/><path d="M139.8,534.2 Q136.3,533.2 136.3,529.2 L136.3,519.4 C136.3,513.2 141,509.9 145.6,509.9 C150.1,509.9 154.8,513.2 154.8,519.4 L154.8,529.2 Q154.8,533.2 151.3,534.2 Z" fill="#b3c9e3" stroke="#5b9bd6" stroke-width="1.15"/><path d="M140.3,533.7 Q137.8,532.7 137.8,529.7 L137.8,519.9 C137.8,514.4 142,511.4 145.6,511.4 C149.1,511.4 153.3,514.4 153.3,519.9 L153.3,529.7 Q153.3,532.7 150.8,533.7 Z" fill="none" stroke="#d7deeb" stroke-width="1.2" stroke-opacity="0.6"/><clipPath id="cc1358_5342"><rect x="135.8" y="509.9" width="19.4" height="24.6"/></clipPath><circle cx="145.6" cy="527.3" r="7.4" fill="#4e93cd" clip-path="url(#cc1358_5342)"/><path d="M159.2,534.2 Q155.7,533.2 155.7,529.2 L155.7,519.4 C155.7,513.2 160.5,509.9 165,509.9 C169.5,509.9 174.3,513.2 174.3,519.4 L174.3,529.2 Q174.3,533.2 170.8,534.2 Z" fill="#b3cae3" stroke="#5b9bd6" stroke-width="1.15"/><path d="M159.7,533.7 Q157.2,532.7 157.2,529.7 L157.2,519.9 C157.2,514.4 161.5,511.4 165,511.4 C168.5,511.4 172.8,514.4 172.8,519.9 L172.8,529.7 Q172.8,532.7 170.3,533.7 Z" fill="none" stroke="#d7deeb" stroke-width="1.2" stroke-opacity="0.6"/><clipPath id="cc1552_5342"><rect x="155.3" y="509.9" width="19.4" height="24.6"/></clipPath><circle cx="165" cy="527.3" r="7.4" fill="#4e93cd" clip-path="url(#cc1552_5342)"/><path d="M178.7,534.2 Q175.2,533.2 175.2,529.2 L175.2,519.4 C175.2,513.2 179.9,509.9 184.5,509.9 C189,509.9 193.8,513.2 193.8,519.4 L193.8,529.2 Q193.8,533.2 190.2,534.2 Z" fill="#b3cae4" stroke="#5b9bd6" stroke-width="1.15"/><path d="M179.2,533.7 Q176.7,532.7 176.7,529.7 L176.7,519.9 C176.7,514.4 180.9,511.4 184.5,511.4 C188,511.4 192.2,514.4 192.2,519.9 L192.2,529.7 Q192.2,532.7 189.8,533.7 Z" fill="none" stroke="#d7dfec" stroke-width="1.2" stroke-opacity="0.6"/><clipPath id="cc1747_5342"><rect x="174.8" y="509.9" width="19.4" height="24.6"/></clipPath><circle cx="184.5" cy="527.3" r="7.4" fill="#4e93cd" clip-path="url(#cc1747_5342)"/><path d="M198.1,534.2 Q194.6,533.2 194.6,529.2 L194.6,519.4 C194.6,513.2 199.4,509.9 203.9,509.9 C208.4,509.9 213.2,513.2 213.2,519.4 L213.2,529.2 Q213.2,533.2 209.7,534.2 Z" fill="#b3cae4" stroke="#5b9bd6" stroke-width="1.15"/><path d="M198.6,533.7 Q196.1,532.7 196.1,529.7 L196.1,519.9 C196.1,514.4 200.4,511.4 203.9,511.4 C207.4,511.4 211.7,514.4 211.7,519.9 L211.7,529.7 Q211.7,532.7 209.2,533.7 Z" fill="none" stroke="#d7dfec" stroke-width="1.2" stroke-opacity="0.6"/><clipPath id="cc1942_5342"><rect x="194.2" y="509.9" width="19.4" height="24.6"/></clipPath><circle cx="203.9" cy="527.3" r="7.4" fill="#4e93cd" clip-path="url(#cc1942_5342)"/><path d="M217.6,534.2 Q214.1,533.2 214.1,529.2 L214.1,519.4 C214.1,513.2 218.8,509.9 223.4,509.9 C227.9,509.9 232.6,513.2 232.6,519.4 L232.6,529.2 Q232.6,533.2 229.1,534.2 Z" fill="#b3cbe5" stroke="#5b9bd6" stroke-width="1.15"/><path d="M218.1,533.7 Q215.6,532.7 215.6,529.7 L215.6,519.9 C215.6,514.4 219.8,511.4 223.4,511.4 C226.9,511.4 231.1,514.4 231.1,519.9 L231.1,529.7 Q231.1,532.7 228.6,533.7 Z" fill="none" stroke="#d7e0ed" stroke-width="1.2" stroke-opacity="0.6"/><clipPath id="cc2136_5342"><rect x="213.6" y="509.9" width="19.4" height="24.6"/></clipPath><circle cx="223.4" cy="527.3" r="7.4" fill="#4e93cd" clip-path="url(#cc2136_5342)"/><path d="M237,534.2 Q233.5,533.2 233.5,529.2 L233.5,519.4 C233.5,513.2 238.3,509.9 242.8,509.9 C247.3,509.9 252.1,513.2 252.1,519.4 L252.1,529.2 Q252.1,533.2 248.6,534.2 Z" fill="#b3cbe5" stroke="#5b9bd6" stroke-width="1.15"/><path d="M237.5,533.7 Q235,532.7 235,529.7 L235,519.9 C235,514.4 239.3,511.4 242.8,511.4 C246.3,511.4 250.6,514.4 250.6,519.9 L250.6,529.7 Q250.6,532.7 248.1,533.7 Z" fill="none" stroke="#d7e0ed" stroke-width="1.2" stroke-opacity="0.6"/><clipPath id="cc2331_5342"><rect x="233.1" y="509.9" width="19.4" height="24.6"/></clipPath><circle cx="242.8" cy="527.3" r="7.4" fill="#4e93cd" clip-path="url(#cc2331_5342)"/><path d="M256.5,534.2 Q253,533.2 253,529.2 L253,519.4 C253,513.2 257.8,509.9 262.3,509.9 C266.8,509.9 271.6,513.2 271.6,519.4 L271.6,529.2 Q271.6,533.2 268.1,534.2 Z" fill="#b3cbe5" stroke="#5b9bd6" stroke-width="1.15"/><path d="M257,533.7 Q254.5,532.7 254.5,529.7 L254.5,519.9 C254.5,514.4 258.8,511.4 262.3,511.4 C265.8,511.4 270.1,514.4 270.1,519.9 L270.1,529.7 Q270.1,532.7 267.6,533.7 Z" fill="none" stroke="#d7e0ed" stroke-width="1.2" stroke-opacity="0.6"/><clipPath id="cc2525_5342"><rect x="252.5" y="509.9" width="19.4" height="24.6"/></clipPath><circle cx="262.3" cy="527.3" r="7.4" fill="#4e93cd" clip-path="url(#cc2525_5342)"/><line x1="31" y1="535.9000000000001" x2="281.5" y2="535.9000000000001" stroke="#62a0da" stroke-width="3.7" stroke-linecap="round"/>
<clipPath id="sc3"><path d="M-21.4,449.9 L332,449.9 L332,520 L272,518.5 A9.7,7.6 0 0 0 252.5,518.5 A9.7,7.6 0 0 0 233.1,518.5 A9.7,7.6 0 0 0 213.6,518.5 A9.7,7.6 0 0 0 194.2,518.5 A9.7,7.6 0 0 0 174.8,518.5 A9.7,7.6 0 0 0 155.3,518.5 A9.7,7.6 0 0 0 135.8,518.5 A9.7,7.6 0 0 0 116.4,518.5 A9.7,7.6 0 0 0 96.9,518.5 A9.7,7.6 0 0 0 77.5,518.5 A9.7,7.6 0 0 0 58,518.5 A9.7,7.6 0 0 0 38.6,518.5 L-21.4,520 Z"/></clipPath><g clip-path="url(#sc3)"><g transform="translate(68 501.6) scale(1 1)" opacity="0.95"><path d="M-34.5,15 C-27,11 -23,3 -19,-2.5 C-15,-8 -10,-11.8 0,-11.8 C9,-11.8 13,-8 16,-4 C20,2 23,8 29.5,12.4 L24,21 L-24,21 Z" fill="url(#tr)" stroke="#f29a2b" stroke-width="1"/><circle cx="0" cy="0" r="5.7" fill="#fbb136"/></g><g transform="translate(244 501.6) scale(-1 1)" opacity="0.95"><path d="M-34.5,15 C-27,11 -23,3 -19,-2.5 C-15,-8 -10,-11.8 0,-11.8 C9,-11.8 13,-8 16,-4 C20,2 23,8 29.5,12.4 L24,21 L-24,21 Z" fill="url(#tr)" stroke="#f29a2b" stroke-width="1"/><circle cx="0" cy="0" r="5.7" fill="#fbb136"/></g></g>
<line x1="53" y1="590.5" x2="53" y2="628" stroke="#2b2bf5" stroke-width="4"/>
<path d="M53,644 L44.5,621 L53,625.5 L61.5,621 Z" fill="#2b2bf5"/>
<ellipse cx="153.5" cy="920" rx="104" ry="50" fill="url(#shadow)"/>
<path d="M42.6,879.6 Q39.1,878.6 39.1,874.6 L39.1,864.8 C39.1,858.6 43.8,855.3 48.3,855.3 C52.8,855.3 57.6,858.6 57.6,864.8 L57.6,874.6 Q57.6,878.6 54.1,879.6 Z" fill="#b2c7e1" stroke="#5b9bd6" stroke-width="1.15"/><path d="M43.1,879.1 Q40.6,878.1 40.6,875.1 L40.6,865.3 C40.6,859.8 44.8,856.8 48.3,856.8 C51.8,856.8 56.1,859.8 56.1,865.3 L56.1,875.1 Q56.1,878.1 53.6,879.1 Z" fill="none" stroke="#d6dce9" stroke-width="1.2" stroke-opacity="0.6"/><clipPath id="cc386_8796"><rect x="38.6" y="855.3" width="19.4" height="24.6"/></clipPath><circle cx="48.3" cy="872.7" r="7.4" fill="#4e93cd" clip-path="url(#cc386_8796)"/><path d="M62,879.6 Q58.5,878.6 58.5,874.6 L58.5,864.8 C58.5,858.6 63.2,855.3 67.8,855.3 C72.3,855.3 77,858.6 77,864.8 L77,874.6 Q77,878.6 73.5,879.6 Z" fill="#b2c8e1" stroke="#5b9bd6" stroke-width="1.15"/><path d="M62.5,879.1 Q60,878.1 60,875.1 L60,865.3 C60,859.8 64.2,856.8 67.8,856.8 C71.3,856.8 75.5,859.8 75.5,865.3 L75.5,875.1 Q75.5,878.1 73,879.1 Z" fill="none" stroke="#d6dde9" stroke-width="1.2" stroke-opacity="0.6"/><clipPath id="cc580_8796"><rect x="58" y="855.3" width="19.4" height="24.6"/></clipPath><circle cx="67.8" cy="872.7" r="7.4" fill="#4e93cd" clip-path="url(#cc580_8796)"/><path d="M81.5,879.6 Q78,878.6 78,874.6 L78,864.8 C78,858.6 82.7,855.3 87.2,855.3 C91.8,855.3 96.5,858.6 96.5,864.8 L96.5,874.6 Q96.5,878.6 93,879.6 Z" fill="#b2c8e2" stroke="#5b9bd6" stroke-width="1.15"/><path d="M82,879.1 Q79.5,878.1 79.5,875.1 L79.5,865.3 C79.5,859.8 83.7,856.8 87.2,856.8 C90.8,856.8 95,859.8 95,865.3 L95,875.1 Q95,878.1 92.5,879.1 Z" fill="none" stroke="#d6ddea" stroke-width="1.2" stroke-opacity="0.6"/><clipPath id="cc775_8796"><rect x="77.5" y="855.3" width="19.4" height="24.6"/></clipPath><circle cx="87.2" cy="872.7" r="7.4" fill="#4e93cd" clip-path="url(#cc775_8796)"/><path d="M100.9,879.6 Q97.4,878.6 97.4,874.6 L97.4,864.8 C97.4,858.6 102.1,855.3 106.7,855.3 C111.2,855.3 115.9,858.6 115.9,864.8 L115.9,874.6 Q115.9,878.6 112.4,879.6 Z" fill="#b2c9e2" stroke="#5b9bd6" stroke-width="1.15"/><path d="M101.4,879.1 Q98.9,878.1 98.9,875.1 L98.9,865.3 C98.9,859.8 103.1,856.8 106.7,856.8 C110.2,856.8 114.4,859.8 114.4,865.3 L114.4,875.1 Q114.4,878.1 111.9,879.1 Z" fill="none" stroke="#d6ddea" stroke-width="1.2" stroke-opacity="0.6"/><clipPath id="cc969_8796"><rect x="96.9" y="855.3" width="19.4" height="24.6"/></clipPath><circle cx="106.7" cy="872.7" r="7.4" fill="#4e93cd" clip-path="url(#cc969_8796)"/><path d="M120.4,879.6 Q116.9,878.6 116.9,874.6 L116.9,864.8 C116.9,858.6 121.6,855.3 126.1,855.3 C130.7,855.3 135.4,858.6 135.4,864.8 L135.4,874.6 Q135.4,878.6 131.9,879.6 Z" fill="#b3c9e3" stroke="#5b9bd6" stroke-width="1.15"/><path d="M120.9,879.1 Q118.4,878.1 118.4,875.1 L118.4,865.3 C118.4,859.8 122.6,856.8 126.1,856.8 C129.7,856.8 133.9,859.8 133.9,865.3 L133.9,875.1 Q133.9,878.1 131.4,879.1 Z" fill="none" stroke="#d7deeb" stroke-width="1.2" stroke-opacity="0.6"/><clipPath id="cc1164_8796"><rect x="116.4" y="855.3" width="19.4" height="24.6"/></clipPath><circle cx="126.1" cy="872.7" r="7.4" fill="#4e93cd" clip-path="url(#cc1164_8796)"/><path d="M139.8,879.6 Q136.3,878.6 136.3,874.6 L136.3,864.8 C136.3,858.6 141,855.3 145.6,855.3 C150.1,855.3 154.8,858.6 154.8,864.8 L154.8,874.6 Q154.8,878.6 151.3,879.6 Z" fill="#b3c9e3" stroke="#5b9bd6" stroke-width="1.15"/><path d="M140.3,879.1 Q137.8,878.1 137.8,875.1 L137.8,865.3 C137.8,859.8 142,856.8 145.6,856.8 C149.1,856.8 153.3,859.8 153.3,865.3 L153.3,875.1 Q153.3,878.1 150.8,879.1 Z" fill="none" stroke="#d7deeb" stroke-width="1.2" stroke-opacity="0.6"/><clipPath id="cc1358_8796"><rect x="135.8" y="855.3" width="19.4" height="24.6"/></clipPath><circle cx="145.6" cy="872.7" r="7.4" fill="#4e93cd" clip-path="url(#cc1358_8796)"/><path d="M159.2,879.6 Q155.7,878.6 155.7,874.6 L155.7,864.8 C155.7,858.6 160.5,855.3 165,855.3 C169.5,855.3 174.3,858.6 174.3,864.8 L174.3,874.6 Q174.3,878.6 170.8,879.6 Z" fill="#b3cae3" stroke="#5b9bd6" stroke-width="1.15"/><path d="M159.7,879.1 Q157.2,878.1 157.2,875.1 L157.2,865.3 C157.2,859.8 161.5,856.8 165,856.8 C168.5,856.8 172.8,859.8 172.8,865.3 L172.8,875.1 Q172.8,878.1 170.3,879.1 Z" fill="none" stroke="#d7deeb" stroke-width="1.2" stroke-opacity="0.6"/><clipPath id="cc1552_8796"><rect x="155.3" y="855.3" width="19.4" height="24.6"/></clipPath><circle cx="165" cy="872.7" r="7.4" fill="#4e93cd" clip-path="url(#cc1552_8796)"/><path d="M178.7,879.6 Q175.2,878.6 175.2,874.6 L175.2,864.8 C175.2,858.6 179.9,855.3 184.5,855.3 C189,855.3 193.8,858.6 193.8,864.8 L193.8,874.6 Q193.8,878.6 190.2,879.6 Z" fill="#b3cae4" stroke="#5b9bd6" stroke-width="1.15"/><path d="M179.2,879.1 Q176.7,878.1 176.7,875.1 L176.7,865.3 C176.7,859.8 180.9,856.8 184.5,856.8 C188,856.8 192.2,859.8 192.2,865.3 L192.2,875.1 Q192.2,878.1 189.8,879.1 Z" fill="none" stroke="#d7dfec" stroke-width="1.2" stroke-opacity="0.6"/><clipPath id="cc1747_8796"><rect x="174.8" y="855.3" width="19.4" height="24.6"/></clipPath><circle cx="184.5" cy="872.7" r="7.4" fill="#4e93cd" clip-path="url(#cc1747_8796)"/><path d="M198.1,879.6 Q194.6,878.6 194.6,874.6 L194.6,864.8 C194.6,858.6 199.4,855.3 203.9,855.3 C208.4,855.3 213.2,858.6 213.2,864.8 L213.2,874.6 Q213.2,878.6 209.7,879.6 Z" fill="#b3cae4" stroke="#5b9bd6" stroke-width="1.15"/><path d="M198.6,879.1 Q196.1,878.1 196.1,875.1 L196.1,865.3 C196.1,859.8 200.4,856.8 203.9,856.8 C207.4,856.8 211.7,859.8 211.7,865.3 L211.7,875.1 Q211.7,878.1 209.2,879.1 Z" fill="none" stroke="#d7dfec" stroke-width="1.2" stroke-opacity="0.6"/><clipPath id="cc1942_8796"><rect x="194.2" y="855.3" width="19.4" height="24.6"/></clipPath><circle cx="203.9" cy="872.7" r="7.4" fill="#4e93cd" clip-path="url(#cc1942_8796)"/><path d="M217.6,879.6 Q214.1,878.6 214.1,874.6 L214.1,864.8 C214.1,858.6 218.8,855.3 223.4,855.3 C227.9,855.3 232.6,858.6 232.6,864.8 L232.6,874.6 Q232.6,878.6 229.1,879.6 Z" fill="#b3cbe5" stroke="#5b9bd6" stroke-width="1.15"/><path d="M218.1,879.1 Q215.6,878.1 215.6,875.1 L215.6,865.3 C215.6,859.8 219.8,856.8 223.4,856.8 C226.9,856.8 231.1,859.8 231.1,865.3 L231.1,875.1 Q231.1,878.1 228.6,879.1 Z" fill="none" stroke="#d7e0ed" stroke-width="1.2" stroke-opacity="0.6"/><clipPath id="cc2136_8796"><rect x="213.6" y="855.3" width="19.4" height="24.6"/></clipPath><circle cx="223.4" cy="872.7" r="7.4" fill="#4e93cd" clip-path="url(#cc2136_8796)"/><path d="M237,879.6 Q233.5,878.6 233.5,874.6 L233.5,864.8 C233.5,858.6 238.3,855.3 242.8,855.3 C247.3,855.3 252.1,858.6 252.1,864.8 L252.1,874.6 Q252.1,878.6 248.6,879.6 Z" fill="#b3cbe5" stroke="#5b9bd6" stroke-width="1.15"/><path d="M237.5,879.1 Q235,878.1 235,875.1 L235,865.3 C235,859.8 239.3,856.8 242.8,856.8 C246.3,856.8 250.6,859.8 250.6,865.3 L250.6,875.1 Q250.6,878.1 248.1,879.1 Z" fill="none" stroke="#d7e0ed" stroke-width="1.2" stroke-opacity="0.6"/><clipPath id="cc2331_8796"><rect x="233.1" y="855.3" width="19.4" height="24.6"/></clipPath><circle cx="242.8" cy="872.7" r="7.4" fill="#4e93cd" clip-path="url(#cc2331_8796)"/><path d="M256.5,879.6 Q253,878.6 253,874.6 L253,864.8 C253,858.6 257.8,855.3 262.3,855.3 C266.8,855.3 271.6,858.6 271.6,864.8 L271.6,874.6 Q271.6,878.6 268.1,879.6 Z" fill="#b3cbe5" stroke="#5b9bd6" stroke-width="1.15"/><path d="M257,879.1 Q254.5,878.1 254.5,875.1 L254.5,865.3 C254.5,859.8 258.8,856.8 262.3,856.8 C265.8,856.8 270.1,859.8 270.1,865.3 L270.1,875.1 Q270.1,878.1 267.6,879.1 Z" fill="none" stroke="#d7e0ed" stroke-width="1.2" stroke-opacity="0.6"/><clipPath id="cc2525_8796"><rect x="252.5" y="855.3" width="19.4" height="24.6"/></clipPath><circle cx="262.3" cy="872.7" r="7.4" fill="#4e93cd" clip-path="url(#cc2525_8796)"/><line x1="30" y1="881.3000000000001" x2="281" y2="881.3000000000001" stroke="#62a0da" stroke-width="3.7" stroke-linecap="round"/>
<clipPath id="sc4"><path d="M-21.4,795.3 L332,795.3 L332,865.4 L272,863.9 A9.7,7.6 0 0 0 252.5,863.9 A9.7,7.6 0 0 0 233.1,863.9 A9.7,7.6 0 0 0 213.6,863.9 A9.7,7.6 0 0 0 194.2,863.9 A9.7,7.6 0 0 0 174.8,863.9 A9.7,7.6 0 0 0 155.3,863.9 A9.7,7.6 0 0 0 135.8,863.9 A9.7,7.6 0 0 0 116.4,863.9 A9.7,7.6 0 0 0 96.9,863.9 A9.7,7.6 0 0 0 77.5,863.9 A9.7,7.6 0 0 0 58,863.9 A9.7,7.6 0 0 0 38.6,863.9 L-21.4,865.4 Z"/></clipPath><g clip-path="url(#sc4)"><g transform="translate(69 849) scale(1 1)" opacity="0.95"><path d="M-34.5,15 C-27,11 -23,3 -19,-2.5 C-15,-8 -10,-11.8 0,-11.8 C9,-11.8 13,-8 16,-4 C20,2 23,8 29.5,12.4 L24,21 L-24,21 Z" fill="url(#tr)" stroke="#f29a2b" stroke-width="1"/><circle cx="0" cy="0" r="5.7" fill="#fbb136"/></g><g transform="translate(245 849) scale(-1 1)" opacity="0.95"><path d="M-34.5,15 C-27,11 -23,3 -19,-2.5 C-15,-8 -10,-11.8 0,-11.8 C9,-11.8 13,-8 16,-4 C20,2 23,8 29.5,12.4 L24,21 L-24,21 Z" fill="url(#tr)" stroke="#f29a2b" stroke-width="1"/><circle cx="0" cy="0" r="5.7" fill="#fbb136"/></g></g>
<circle cx="95.6" cy="882.3" r="10.6" fill="url(#mel)" stroke="#2b2422" stroke-width="1.8"/>
<circle cx="135.2" cy="882.3" r="10.6" fill="url(#mel)" stroke="#2b2422" stroke-width="1.8"/>
<circle cx="174.8" cy="882.3" r="10.6" fill="url(#mel)" stroke="#2b2422" stroke-width="1.8"/>
<circle cx="214.4" cy="882.3" r="10.6" fill="url(#mel)" stroke="#2b2422" stroke-width="1.8"/>
<circle cx="115.4" cy="855.6" r="10.6" fill="url(#mel)" stroke="#2b2422" stroke-width="1.8"/>
<circle cx="154.8" cy="855.6" r="10.6" fill="url(#mel)" stroke="#2b2422" stroke-width="1.8"/>
<circle cx="194.2" cy="855.6" r="10.6" fill="url(#mel)" stroke="#2b2422" stroke-width="1.8"/>
<circle cx="95.6" cy="839.2" r="10.6" fill="url(#mel)" stroke="#2b2422" stroke-width="1.8"/>
<circle cx="135.2" cy="839.2" r="10.6" fill="url(#mel)" stroke="#2b2422" stroke-width="1.8"/>
<circle cx="174.8" cy="839.2" r="10.6" fill="url(#mel)" stroke="#2b2422" stroke-width="1.8"/>
<circle cx="214.4" cy="839.2" r="10.6" fill="url(#mel)" stroke="#2b2422" stroke-width="1.8"/>
<path d="M720.2,534.2 Q716.8,533.2 716.8,529.2 L716.8,519.4 C716.8,513.2 721.5,509.9 726,509.9 C730.5,509.9 735.3,513.2 735.3,519.4 L735.3,529.2 Q735.3,533.2 731.8,534.2 Z" fill="#accce9" stroke="#5b9bd6" stroke-width="1.15"/><path d="M720.8,533.7 Q718.2,532.7 718.2,529.7 L718.2,519.9 C718.2,514.4 722.5,511.4 726,511.4 C729.5,511.4 733.8,514.4 733.8,519.9 L733.8,529.7 Q733.8,532.7 731.3,533.7 Z" fill="none" stroke="#d0e1f1" stroke-width="1.2" stroke-opacity="0.6"/><clipPath id="cc7163_5342"><rect x="716.3" y="509.9" width="19.4" height="24.6"/></clipPath><circle cx="726" cy="527.3" r="7.4" fill="#4e93cd" clip-path="url(#cc7163_5342)"/><path d="M739.7,534.2 Q736.2,533.2 736.2,529.2 L736.2,519.4 C736.2,513.2 741,509.9 745.5,509.9 C750,509.9 754.8,513.2 754.8,519.4 L754.8,529.2 Q754.8,533.2 751.2,534.2 Z" fill="#accce9" stroke="#5b9bd6" stroke-width="1.15"/><path d="M740.2,533.7 Q737.7,532.7 737.7,529.7 L737.7,519.9 C737.7,514.4 742,511.4 745.5,511.4 C749,511.4 753.2,514.4 753.2,519.9 L753.2,529.7 Q753.2,532.7 750.8,533.7 Z" fill="none" stroke="#d0e1f1" stroke-width="1.2" stroke-opacity="0.6"/><clipPath id="cc7357_5342"><rect x="735.8" y="509.9" width="19.4" height="24.6"/></clipPath><circle cx="745.5" cy="527.3" r="7.4" fill="#4e93cd" clip-path="url(#cc7357_5342)"/><path d="M759.1,534.2 Q755.6,533.2 755.6,529.2 L755.6,519.4 C755.6,513.2 760.4,509.9 764.9,509.9 C769.4,509.9 774.2,513.2 774.2,519.4 L774.2,529.2 Q774.2,533.2 770.7,534.2 Z" fill="#abcce9" stroke="#5b9bd6" stroke-width="1.15"/><path d="M759.6,533.7 Q757.1,532.7 757.1,529.7 L757.1,519.9 C757.1,514.4 761.4,511.4 764.9,511.4 C768.4,511.4 772.7,514.4 772.7,519.9 L772.7,529.7 Q772.7,532.7 770.2,533.7 Z" fill="none" stroke="#cfe1f1" stroke-width="1.2" stroke-opacity="0.6"/><clipPath id="cc7551_5342"><rect x="755.2" y="509.9" width="19.4" height="24.6"/></clipPath><circle cx="764.9" cy="527.3" r="7.4" fill="#4e93cd" clip-path="url(#cc7551_5342)"/><path d="M778.6,534.2 Q775.1,533.2 775.1,529.2 L775.1,519.4 C775.1,513.2 779.9,509.9 784.4,509.9 C788.9,509.9 793.6,513.2 793.6,519.4 L793.6,529.2 Q793.6,533.2 790.1,534.2 Z" fill="#aaccea" stroke="#5b9bd6" stroke-width="1.15"/><path d="M779.1,533.7 Q776.6,532.7 776.6,529.7 L776.6,519.9 C776.6,514.4 780.9,511.4 784.4,511.4 C787.9,511.4 792.1,514.4 792.1,519.9 L792.1,529.7 Q792.1,532.7 789.6,533.7 Z" fill="none" stroke="#cee0f2" stroke-width="1.2" stroke-opacity="0.6"/><clipPath id="cc7746_5342"><rect x="774.6" y="509.9" width="19.4" height="24.6"/></clipPath><circle cx="784.4" cy="527.3" r="7.4" fill="#4e93cd" clip-path="url(#cc7746_5342)"/><path d="M798,534.2 Q794.5,533.2 794.5,529.2 L794.5,519.4 C794.5,513.2 799.3,509.9 803.8,509.9 C808.3,509.9 813.1,513.2 813.1,519.4 L813.1,529.2 Q813.1,533.2 809.6,534.2 Z" fill="#aacbea" stroke="#5b9bd6" stroke-width="1.15"/><path d="M798.5,533.7 Q796,532.7 796,529.7 L796,519.9 C796,514.4 800.3,511.4 803.8,511.4 C807.3,511.4 811.6,514.4 811.6,519.9 L811.6,529.7 Q811.6,532.7 809.1,533.7 Z" fill="none" stroke="#cee0f2" stroke-width="1.2" stroke-opacity="0.6"/><clipPath id="cc7940_5342"><rect x="794.1" y="509.9" width="19.4" height="24.6"/></clipPath><circle cx="803.8" cy="527.3" r="7.4" fill="#4e93cd" clip-path="url(#cc7940_5342)"/><path d="M817.5,534.2 Q814,533.2 814,529.2 L814,519.4 C814,513.2 818.8,509.9 823.3,509.9 C827.8,509.9 832.5,513.2 832.5,519.4 L832.5,529.2 Q832.5,533.2 829,534.2 Z" fill="#a9cbea" stroke="#5b9bd6" stroke-width="1.15"/><path d="M818,533.7 Q815.5,532.7 815.5,529.7 L815.5,519.9 C815.5,514.4 819.8,511.4 823.3,511.4 C826.8,511.4 831,514.4 831,519.9 L831,529.7 Q831,532.7 828.5,533.7 Z" fill="none" stroke="#cde0f2" stroke-width="1.2" stroke-opacity="0.6"/><clipPath id="cc8135_5342"><rect x="813.5" y="509.9" width="19.4" height="24.6"/></clipPath><circle cx="823.3" cy="527.3" r="7.4" fill="#4e93cd" clip-path="url(#cc8135_5342)"/><path d="M837,534.2 Q833.5,533.2 833.5,529.2 L833.5,519.4 C833.5,513.2 838.2,509.9 842.7,509.9 C847.2,509.9 852,513.2 852,519.4 L852,529.2 Q852,533.2 848.5,534.2 Z" fill="#a8cbea" stroke="#5b9bd6" stroke-width="1.15"/><path d="M837.5,533.7 Q835,532.7 835,529.7 L835,519.9 C835,514.4 839.2,511.4 842.7,511.4 C846.2,511.4 850.5,514.4 850.5,519.9 L850.5,529.7 Q850.5,532.7 848,533.7 Z" fill="none" stroke="#cce0f2" stroke-width="1.2" stroke-opacity="0.6"/><clipPath id="cc8330_5342"><rect x="833" y="509.9" width="19.4" height="24.6"/></clipPath><circle cx="842.7" cy="527.3" r="7.4" fill="#4e93cd" clip-path="url(#cc8330_5342)"/><path d="M856.4,534.2 Q852.9,533.2 852.9,529.2 L852.9,519.4 C852.9,513.2 857.6,509.9 862.2,509.9 C866.7,509.9 871.4,513.2 871.4,519.4 L871.4,529.2 Q871.4,533.2 867.9,534.2 Z" fill="#a8cae9" stroke="#5b9bd6" stroke-width="1.15"/><path d="M856.9,533.7 Q854.4,532.7 854.4,529.7 L854.4,519.9 C854.4,514.4 858.6,511.4 862.2,511.4 C865.7,511.4 869.9,514.4 869.9,519.9 L869.9,529.7 Q869.9,532.7 867.4,533.7 Z" fill="none" stroke="#ccdff1" stroke-width="1.2" stroke-opacity="0.6"/><clipPath id="cc8524_5342"><rect x="852.4" y="509.9" width="19.4" height="24.6"/></clipPath><circle cx="862.2" cy="527.3" r="7.4" fill="#4e93cd" clip-path="url(#cc8524_5342)"/><path d="M875.9,534.2 Q872.4,533.2 872.4,529.2 L872.4,519.4 C872.4,513.2 877.1,509.9 881.6,509.9 C886.1,509.9 890.9,513.2 890.9,519.4 L890.9,529.2 Q890.9,533.2 887.4,534.2 Z" fill="#a7cae9" stroke="#5b9bd6" stroke-width="1.15"/><path d="M876.4,533.7 Q873.9,532.7 873.9,529.7 L873.9,519.9 C873.9,514.4 878.1,511.4 881.6,511.4 C885.1,511.4 889.4,514.4 889.4,519.9 L889.4,529.7 Q889.4,532.7 886.9,533.7 Z" fill="none" stroke="#cbdff1" stroke-width="1.2" stroke-opacity="0.6"/><clipPath id="cc8719_5342"><rect x="871.9" y="509.9" width="19.4" height="24.6"/></clipPath><circle cx="881.6" cy="527.3" r="7.4" fill="#4e93cd" clip-path="url(#cc8719_5342)"/><path d="M895.3,534.2 Q891.8,533.2 891.8,529.2 L891.8,519.4 C891.8,513.2 896.5,509.9 901.1,509.9 C905.6,509.9 910.3,513.2 910.3,519.4 L910.3,529.2 Q910.3,533.2 906.8,534.2 Z" fill="#a7cae9" stroke="#5b9bd6" stroke-width="1.15"/><path d="M895.8,533.7 Q893.3,532.7 893.3,529.7 L893.3,519.9 C893.3,514.4 897.5,511.4 901.1,511.4 C904.6,511.4 908.8,514.4 908.8,519.9 L908.8,529.7 Q908.8,532.7 906.3,533.7 Z" fill="none" stroke="#cbdff1" stroke-width="1.2" stroke-opacity="0.6"/><clipPath id="cc8913_5342"><rect x="891.3" y="509.9" width="19.4" height="24.6"/></clipPath><circle cx="901.1" cy="527.3" r="7.4" fill="#4e93cd" clip-path="url(#cc8913_5342)"/><path d="M914.8,534.2 Q911.2,533.2 911.2,529.2 L911.2,519.4 C911.2,513.2 916,509.9 920.5,509.9 C925,509.9 929.8,513.2 929.8,519.4 L929.8,529.2 Q929.8,533.2 926.3,534.2 Z" fill="#a6cae9" stroke="#5b9bd6" stroke-width="1.15"/><path d="M915.2,533.7 Q912.8,532.7 912.8,529.7 L912.8,519.9 C912.8,514.4 917,511.4 920.5,511.4 C924,511.4 928.3,514.4 928.3,519.9 L928.3,529.7 Q928.3,532.7 925.8,533.7 Z" fill="none" stroke="#cadef1" stroke-width="1.2" stroke-opacity="0.6"/><clipPath id="cc9108_5342"><rect x="910.8" y="509.9" width="19.4" height="24.6"/></clipPath><circle cx="920.5" cy="527.3" r="7.4" fill="#4e93cd" clip-path="url(#cc9108_5342)"/><path d="M934.2,534.2 Q930.7,533.2 930.7,529.2 L930.7,519.4 C930.7,513.2 935.5,509.9 940,509.9 C944.5,509.9 949.2,513.2 949.2,519.4 L949.2,529.2 Q949.2,533.2 945.8,534.2 Z" fill="#a5c9e9" stroke="#5b9bd6" stroke-width="1.15"/><path d="M934.7,533.7 Q932.2,532.7 932.2,529.7 L932.2,519.9 C932.2,514.4 936.5,511.4 940,511.4 C943.5,511.4 947.8,514.4 947.8,519.9 L947.8,529.7 Q947.8,532.7 945.2,533.7 Z" fill="none" stroke="#c9def1" stroke-width="1.2" stroke-opacity="0.6"/><clipPath id="cc9302_5342"><rect x="930.2" y="509.9" width="19.4" height="24.6"/></clipPath><circle cx="940" cy="527.3" r="7.4" fill="#4e93cd" clip-path="url(#cc9302_5342)"/><line x1="709" y1="535.9000000000001" x2="960" y2="535.9000000000001" stroke="#62a0da" stroke-width="3.7" stroke-linecap="round"/>
<clipPath id="sc5"><path d="M656.3,449.9 L1009.7,449.9 L1009.7,520 L949.7,518.5 A9.7,7.6 0 0 0 930.2,518.5 A9.7,7.6 0 0 0 910.8,518.5 A9.7,7.6 0 0 0 891.3,518.5 A9.7,7.6 0 0 0 871.9,518.5 A9.7,7.6 0 0 0 852.4,518.5 A9.7,7.6 0 0 0 833,518.5 A9.7,7.6 0 0 0 813.5,518.5 A9.7,7.6 0 0 0 794.1,518.5 A9.7,7.6 0 0 0 774.6,518.5 A9.7,7.6 0 0 0 755.2,518.5 A9.7,7.6 0 0 0 735.8,518.5 A9.7,7.6 0 0 0 716.3,518.5 L656.3,520 Z"/></clipPath><g clip-path="url(#sc5)"><g transform="translate(744.7 500.8) scale(1 1)" opacity="0.82"><path d="M-34.5,15 C-27,11 -23,3 -19,-2.5 C-15,-8 -10,-11.8 0,-11.8 C9,-11.8 13,-8 16,-4 C20,2 23,8 29.5,12.4 L24,21 L-24,21 Z" fill="url(#tr)" stroke="#f29a2b" stroke-width="1"/><circle cx="0" cy="0" r="5.7" fill="#fbb136"/></g><g transform="translate(766.4 502) scale(-1 1)" opacity="0.82"><path d="M-34.5,15 C-27,11 -23,3 -19,-2.5 C-15,-8 -10,-11.8 0,-11.8 C9,-11.8 13,-8 16,-4 C20,2 23,8 29.5,12.4 L24,21 L-24,21 Z" fill="url(#tr)" stroke="#f29a2b" stroke-width="1"/><circle cx="0" cy="0" r="5.7" fill="#fbb136"/></g><g transform="translate(805.7 504.3) scale(1 1)" opacity="0.82"><path d="M-34.5,15 C-27,11 -23,3 -19,-2.5 C-15,-8 -10,-11.8 0,-11.8 C9,-11.8 13,-8 16,-4 C20,2 23,8 29.5,12.4 L24,21 L-24,21 Z" fill="url(#tr)" stroke="#f29a2b" stroke-width="1"/><circle cx="0" cy="0" r="5.7" fill="#fbb136"/></g><g transform="translate(842.3 501.6) scale(1 1)" opacity="0.82"><path d="M-34.5,15 C-27,11 -23,3 -19,-2.5 C-15,-8 -10,-11.8 0,-11.8 C9,-11.8 13,-8 16,-4 C20,2 23,8 29.5,12.4 L24,21 L-24,21 Z" fill="url(#tr)" stroke="#f29a2b" stroke-width="1"/><circle cx="0" cy="0" r="5.7" fill="#fbb136"/></g><g transform="translate(868.6 500) scale(-1 1)" opacity="0.82"><path d="M-34.5,15 C-27,11 -23,3 -19,-2.5 C-15,-8 -10,-11.8 0,-11.8 C9,-11.8 13,-8 16,-4 C20,2 23,8 29.5,12.4 L24,21 L-24,21 Z" fill="url(#tr)" stroke="#f29a2b" stroke-width="1"/><circle cx="0" cy="0" r="5.7" fill="#fbb136"/></g><g transform="translate(922.3 502) scale(-1 1)" opacity="0.82"><path d="M-34.5,15 C-27,11 -23,3 -19,-2.5 C-15,-8 -10,-11.8 0,-11.8 C9,-11.8 13,-8 16,-4 C20,2 23,8 29.5,12.4 L24,21 L-24,21 Z" fill="url(#tr)" stroke="#f29a2b" stroke-width="1"/><circle cx="0" cy="0" r="5.7" fill="#fbb136"/></g><g transform="translate(902 502) scale(1 1)" opacity="0.82"><path d="M-34.5,15 C-27,11 -23,3 -19,-2.5 C-15,-8 -10,-11.8 0,-11.8 C9,-11.8 13,-8 16,-4 C20,2 23,8 29.5,12.4 L24,21 L-24,21 Z" fill="url(#tr)" stroke="#f29a2b" stroke-width="1"/><circle cx="0" cy="0" r="5.7" fill="#fbb136"/></g></g>
<circle cx="803.8" cy="571.7" r="9.6" fill="#f9bd63" stroke="#f3a53e" stroke-width="1"/><circle cx="803.8" cy="571.7" r="5.8" fill="#f6a638"/>
<circle cx="853.3" cy="570.7" r="9.6" fill="#f9bd63" stroke="#f3a53e" stroke-width="1"/><circle cx="853.3" cy="570.7" r="5.8" fill="#f6a638"/>
<circle cx="902.5" cy="551.2" r="9.6" fill="#f9bd63" stroke="#f3a53e" stroke-width="1"/><circle cx="902.5" cy="551.2" r="5.8" fill="#f6a638"/>
<path d="M783.5,579.5 C830,592 890,585 925,549" fill="none" stroke="#000" stroke-width="2.9" stroke-dasharray="8.5 4.2" />
<path d="M939.8,536.3 L919.5,543 L927.2,548 L930.2,557.3 Z" fill="#000"/>
<line x1="720.9" y1="668.5" x2="720.9" y2="632" stroke="#e8182c" stroke-width="4"/>
<path d="M720.9,616 L712.3,639 L720.9,634.5 L729.5,639 Z" fill="#e8182c"/>
<circle cx="773.8" cy="836.9" r="10.6" fill="url(#mel)" stroke="#2b2422" stroke-width="1.8"/>
<circle cx="813" cy="836.9" r="10.6" fill="url(#mel)" stroke="#2b2422" stroke-width="1.8"/>
<circle cx="852.3" cy="836.9" r="10.6" fill="url(#mel)" stroke="#2b2422" stroke-width="1.8"/>
<circle cx="891.6" cy="836.9" r="10.6" fill="url(#mel)" stroke="#2b2422" stroke-width="1.8"/>
<path d="M720.2,879.6 Q716.8,878.6 716.8,874.6 L716.8,864.8 C716.8,858.6 721.5,855.3 726,855.3 C730.5,855.3 735.3,858.6 735.3,864.8 L735.3,874.6 Q735.3,878.6 731.8,879.6 Z" fill="#accce9" stroke="#5b9bd6" stroke-width="1.15"/><path d="M720.8,879.1 Q718.2,878.1 718.2,875.1 L718.2,865.3 C718.2,859.8 722.5,856.8 726,856.8 C729.5,856.8 733.8,859.8 733.8,865.3 L733.8,875.1 Q733.8,878.1 731.3,879.1 Z" fill="none" stroke="#d0e1f1" stroke-width="1.2" stroke-opacity="0.6"/><clipPath id="cc7163_8796"><rect x="716.3" y="855.3" width="19.4" height="24.6"/></clipPath><circle cx="726" cy="872.7" r="7.4" fill="#4e93cd" clip-path="url(#cc7163_8796)"/><path d="M739.7,879.6 Q736.2,878.6 736.2,874.6 L736.2,864.8 C736.2,858.6 741,855.3 745.5,855.3 C750,855.3 754.8,858.6 754.8,864.8 L754.8,874.6 Q754.8,878.6 751.2,879.6 Z" fill="#accce9" stroke="#5b9bd6" stroke-width="1.15"/><path d="M740.2,879.1 Q737.7,878.1 737.7,875.1 L737.7,865.3 C737.7,859.8 742,856.8 745.5,856.8 C749,856.8 753.2,859.8 753.2,865.3 L753.2,875.1 Q753.2,878.1 750.8,879.1 Z" fill="none" stroke="#d0e1f1" stroke-width="1.2" stroke-opacity="0.6"/><clipPath id="cc7357_8796"><rect x="735.8" y="855.3" width="19.4" height="24.6"/></clipPath><circle cx="745.5" cy="872.7" r="7.4" fill="#4e93cd" clip-path="url(#cc7357_8796)"/><path d="M759.1,879.6 Q755.6,878.6 755.6,874.6 L755.6,864.8 C755.6,858.6 760.4,855.3 764.9,855.3 C769.4,855.3 774.2,858.6 774.2,864.8 L774.2,874.6 Q774.2,878.6 770.7,879.6 Z" fill="#abcce9" stroke="#5b9bd6" stroke-width="1.15"/><path d="M759.6,879.1 Q757.1,878.1 757.1,875.1 L757.1,865.3 C757.1,859.8 761.4,856.8 764.9,856.8 C768.4,856.8 772.7,859.8 772.7,865.3 L772.7,875.1 Q772.7,878.1 770.2,879.1 Z" fill="none" stroke="#cfe1f1" stroke-width="1.2" stroke-opacity="0.6"/><clipPath id="cc7551_8796"><rect x="755.2" y="855.3" width="19.4" height="24.6"/></clipPath><circle cx="764.9" cy="872.7" r="7.4" fill="#4e93cd" clip-path="url(#cc7551_8796)"/><path d="M778.6,879.6 Q775.1,878.6 775.1,874.6 L775.1,864.8 C775.1,858.6 779.9,855.3 784.4,855.3 C788.9,855.3 793.6,858.6 793.6,864.8 L793.6,874.6 Q793.6,878.6 790.1,879.6 Z" fill="#aaccea" stroke="#5b9bd6" stroke-width="1.15"/><path d="M779.1,879.1 Q776.6,878.1 776.6,875.1 L776.6,865.3 C776.6,859.8 780.9,856.8 784.4,856.8 C787.9,856.8 792.1,859.8 792.1,865.3 L792.1,875.1 Q792.1,878.1 789.6,879.1 Z" fill="none" stroke="#cee0f2" stroke-width="1.2" stroke-opacity="0.6"/><clipPath id="cc7746_8796"><rect x="774.6" y="855.3" width="19.4" height="24.6"/></clipPath><circle cx="784.4" cy="872.7" r="7.4" fill="#4e93cd" clip-path="url(#cc7746_8796)"/><path d="M798,879.6 Q794.5,878.6 794.5,874.6 L794.5,864.8 C794.5,858.6 799.3,855.3 803.8,855.3 C808.3,855.3 813.1,858.6 813.1,864.8 L813.1,874.6 Q813.1,878.6 809.6,879.6 Z" fill="#aacbea" stroke="#5b9bd6" stroke-width="1.15"/><path d="M798.5,879.1 Q796,878.1 796,875.1 L796,865.3 C796,859.8 800.3,856.8 803.8,856.8 C807.3,856.8 811.6,859.8 811.6,865.3 L811.6,875.1 Q811.6,878.1 809.1,879.1 Z" fill="none" stroke="#cee0f2" stroke-width="1.2" stroke-opacity="0.6"/><clipPath id="cc7940_8796"><rect x="794.1" y="855.3" width="19.4" height="24.6"/></clipPath><circle cx="803.8" cy="872.7" r="7.4" fill="#4e93cd" clip-path="url(#cc7940_8796)"/><path d="M817.5,879.6 Q814,878.6 814,874.6 L814,864.8 C814,858.6 818.8,855.3 823.3,855.3 C827.8,855.3 832.5,858.6 832.5,864.8 L832.5,874.6 Q832.5,878.6 829,879.6 Z" fill="#a9cbea" stroke="#5b9bd6" stroke-width="1.15"/><path d="M818,879.1 Q815.5,878.1 815.5,875.1 L815.5,865.3 C815.5,859.8 819.8,856.8 823.3,856.8 C826.8,856.8 831,859.8 831,865.3 L831,875.1 Q831,878.1 828.5,879.1 Z" fill="none" stroke="#cde0f2" stroke-width="1.2" stroke-opacity="0.6"/><clipPath id="cc8135_8796"><rect x="813.5" y="855.3" width="19.4" height="24.6"/></clipPath><circle cx="823.3" cy="872.7" r="7.4" fill="#4e93cd" clip-path="url(#cc8135_8796)"/><path d="M837,879.6 Q833.5,878.6 833.5,874.6 L833.5,864.8 C833.5,858.6 838.2,855.3 842.7,855.3 C847.2,855.3 852,858.6 852,864.8 L852,874.6 Q852,878.6 848.5,879.6 Z" fill="#a8cbea" stroke="#5b9bd6" stroke-width="1.15"/><path d="M837.5,879.1 Q835,878.1 835,875.1 L835,865.3 C835,859.8 839.2,856.8 842.7,856.8 C846.2,856.8 850.5,859.8 850.5,865.3 L850.5,875.1 Q850.5,878.1 848,879.1 Z" fill="none" stroke="#cce0f2" stroke-width="1.2" stroke-opacity="0.6"/><clipPath id="cc8330_8796"><rect x="833" y="855.3" width="19.4" height="24.6"/></clipPath><circle cx="842.7" cy="872.7" r="7.4" fill="#4e93cd" clip-path="url(#cc8330_8796)"/><path d="M856.4,879.6 Q852.9,878.6 852.9,874.6 L852.9,864.8 C852.9,858.6 857.6,855.3 862.2,855.3 C866.7,855.3 871.4,858.6 871.4,864.8 L871.4,874.6 Q871.4,878.6 867.9,879.6 Z" fill="#a8cae9" stroke="#5b9bd6" stroke-width="1.15"/><path d="M856.9,879.1 Q854.4,878.1 854.4,875.1 L854.4,865.3 C854.4,859.8 858.6,856.8 862.2,856.8 C865.7,856.8 869.9,859.8 869.9,865.3 L869.9,875.1 Q869.9,878.1 867.4,879.1 Z" fill="none" stroke="#ccdff1" stroke-width="1.2" stroke-opacity="0.6"/><clipPath id="cc8524_8796"><rect x="852.4" y="855.3" width="19.4" height="24.6"/></clipPath><circle cx="862.2" cy="872.7" r="7.4" fill="#4e93cd" clip-path="url(#cc8524_8796)"/><path d="M875.9,879.6 Q872.4,878.6 872.4,874.6 L872.4,864.8 C872.4,858.6 877.1,855.3 881.6,855.3 C886.1,855.3 890.9,858.6 890.9,864.8 L890.9,874.6 Q890.9,878.6 887.4,879.6 Z" fill="#a7cae9" stroke="#5b9bd6" stroke-width="1.15"/><path d="M876.4,879.1 Q873.9,878.1 873.9,875.1 L873.9,865.3 C873.9,859.8 878.1,856.8 881.6,856.8 C885.1,856.8 889.4,859.8 889.4,865.3 L889.4,875.1 Q889.4,878.1 886.9,879.1 Z" fill="none" stroke="#cbdff1" stroke-width="1.2" stroke-opacity="0.6"/><clipPath id="cc8719_8796"><rect x="871.9" y="855.3" width="19.4" height="24.6"/></clipPath><circle cx="881.6" cy="872.7" r="7.4" fill="#4e93cd" clip-path="url(#cc8719_8796)"/><path d="M895.3,879.6 Q891.8,878.6 891.8,874.6 L891.8,864.8 C891.8,858.6 896.5,855.3 901.1,855.3 C905.6,855.3 910.3,858.6 910.3,864.8 L910.3,874.6 Q910.3,878.6 906.8,879.6 Z" fill="#a7cae9" stroke="#5b9bd6" stroke-width="1.15"/><path d="M895.8,879.1 Q893.3,878.1 893.3,875.1 L893.3,865.3 C893.3,859.8 897.5,856.8 901.1,856.8 C904.6,856.8 908.8,859.8 908.8,865.3 L908.8,875.1 Q908.8,878.1 906.3,879.1 Z" fill="none" stroke="#cbdff1" stroke-width="1.2" stroke-opacity="0.6"/><clipPath id="cc8913_8796"><rect x="891.3" y="855.3" width="19.4" height="24.6"/></clipPath><circle cx="901.1" cy="872.7" r="7.4" fill="#4e93cd" clip-path="url(#cc8913_8796)"/><path d="M914.8,879.6 Q911.2,878.6 911.2,874.6 L911.2,864.8 C911.2,858.6 916,855.3 920.5,855.3 C925,855.3 929.8,858.6 929.8,864.8 L929.8,874.6 Q929.8,878.6 926.3,879.6 Z" fill="#a6cae9" stroke="#5b9bd6" stroke-width="1.15"/><path d="M915.2,879.1 Q912.8,878.1 912.8,875.1 L912.8,865.3 C912.8,859.8 917,856.8 920.5,856.8 C924,856.8 928.3,859.8 928.3,865.3 L928.3,875.1 Q928.3,878.1 925.8,879.1 Z" fill="none" stroke="#cadef1" stroke-width="1.2" stroke-opacity="0.6"/><clipPath id="cc9108_8796"><rect x="910.8" y="855.3" width="19.4" height="24.6"/></clipPath><circle cx="920.5" cy="872.7" r="7.4" fill="#4e93cd" clip-path="url(#cc9108_8796)"/><path d="M934.2,879.6 Q930.7,878.6 930.7,874.6 L930.7,864.8 C930.7,858.6 935.5,855.3 940,855.3 C944.5,855.3 949.2,858.6 949.2,864.8 L949.2,874.6 Q949.2,878.6 945.8,879.6 Z" fill="#a5c9e9" stroke="#5b9bd6" stroke-width="1.15"/><path d="M934.7,879.1 Q932.2,878.1 932.2,875.1 L932.2,865.3 C932.2,859.8 936.5,856.8 940,856.8 C943.5,856.8 947.8,859.8 947.8,865.3 L947.8,875.1 Q947.8,878.1 945.2,879.1 Z" fill="none" stroke="#c9def1" stroke-width="1.2" stroke-opacity="0.6"/><clipPath id="cc9302_8796"><rect x="930.2" y="855.3" width="19.4" height="24.6"/></clipPath><circle cx="940" cy="872.7" r="7.4" fill="#4e93cd" clip-path="url(#cc9302_8796)"/><line x1="709" y1="881.3000000000001" x2="960" y2="881.3000000000001" stroke="#62a0da" stroke-width="3.7" stroke-linecap="round"/>
<clipPath id="sc6"><path d="M656.3,795.3 L1009.7,795.3 L1009.7,865.4 L949.7,863.9 A9.7,7.6 0 0 0 930.2,863.9 A9.7,7.6 0 0 0 910.8,863.9 A9.7,7.6 0 0 0 891.3,863.9 A9.7,7.6 0 0 0 871.9,863.9 A9.7,7.6 0 0 0 852.4,863.9 A9.7,7.6 0 0 0 833,863.9 A9.7,7.6 0 0 0 813.5,863.9 A9.7,7.6 0 0 0 794.1,863.9 A9.7,7.6 0 0 0 774.6,863.9 A9.7,7.6 0 0 0 755.2,863.9 A9.7,7.6 0 0 0 735.8,863.9 A9.7,7.6 0 0 0 716.3,863.9 L656.3,865.4 Z"/></clipPath><g clip-path="url(#sc6)"><g transform="translate(744.7 846.3) scale(1 1)" opacity="0.82"><path d="M-34.5,15 C-27,11 -23,3 -19,-2.5 C-15,-8 -10,-11.8 0,-11.8 C9,-11.8 13,-8 16,-4 C20,2 23,8 29.5,12.4 L24,21 L-24,21 Z" fill="url(#tr)" stroke="#f29a2b" stroke-width="1"/><circle cx="0" cy="0" r="5.7" fill="#fbb136"/></g><g transform="translate(766.4 847.5) scale(-1 1)" opacity="0.82"><path d="M-34.5,15 C-27,11 -23,3 -19,-2.5 C-15,-8 -10,-11.8 0,-11.8 C9,-11.8 13,-8 16,-4 C20,2 23,8 29.5,12.4 L24,21 L-24,21 Z" fill="url(#tr)" stroke="#f29a2b" stroke-width="1"/><circle cx="0" cy="0" r="5.7" fill="#fbb136"/></g><g transform="translate(805.7 849.8) scale(1 1)" opacity="0.82"><path d="M-34.5,15 C-27,11 -23,3 -19,-2.5 C-15,-8 -10,-11.8 0,-11.8 C9,-11.8 13,-8 16,-4 C20,2 23,8 29.5,12.4 L24,21 L-24,21 Z" fill="url(#tr)" stroke="#f29a2b" stroke-width="1"/><circle cx="0" cy="0" r="5.7" fill="#fbb136"/></g><g transform="translate(842.3 847.1) scale(1 1)" opacity="0.82"><path d="M-34.5,15 C-27,11 -23,3 -19,-2.5 C-15,-8 -10,-11.8 0,-11.8 C9,-11.8 13,-8 16,-4 C20,2 23,8 29.5,12.4 L24,21 L-24,21 Z" fill="url(#tr)" stroke="#f29a2b" stroke-width="1"/><circle cx="0" cy="0" r="5.7" fill="#fbb136"/></g><g transform="translate(868.6 845.5) scale(-1 1)" opacity="0.82"><path d="M-34.5,15 C-27,11 -23,3 -19,-2.5 C-15,-8 -10,-11.8 0,-11.8 C9,-11.8 13,-8 16,-4 C20,2 23,8 29.5,12.4 L24,21 L-24,21 Z" fill="url(#tr)" stroke="#f29a2b" stroke-width="1"/><circle cx="0" cy="0" r="5.7" fill="#fbb136"/></g><g transform="translate(922.3 847.5) scale(-1 1)" opacity="0.82"><path d="M-34.5,15 C-27,11 -23,3 -19,-2.5 C-15,-8 -10,-11.8 0,-11.8 C9,-11.8 13,-8 16,-4 C20,2 23,8 29.5,12.4 L24,21 L-24,21 Z" fill="url(#tr)" stroke="#f29a2b" stroke-width="1"/><circle cx="0" cy="0" r="5.7" fill="#fbb136"/></g><g transform="translate(902 847.5) scale(1 1)" opacity="0.82"><path d="M-34.5,15 C-27,11 -23,3 -19,-2.5 C-15,-8 -10,-11.8 0,-11.8 C9,-11.8 13,-8 16,-4 C20,2 23,8 29.5,12.4 L24,21 L-24,21 Z" fill="url(#tr)" stroke="#f29a2b" stroke-width="1"/><circle cx="0" cy="0" r="5.7" fill="#fbb136"/></g></g>
<text x="269" y="37.6" font-size="23.4" font-weight="bold" fill="#000" text-anchor="start" textLength="458" lengthAdjust="spacingAndGlyphs">Neuro-Epithelial-Immune Tri-lineage Axis</text>
<text x="25.7" y="79.4" font-size="23" font-weight="bold" fill="#4a85c9" text-anchor="start" textLength="153.4" lengthAdjust="spacingAndGlyphs">Keratinocytes</text>
<text x="192.2" y="79.2" font-size="23" font-weight="bold" fill="#f0801c" text-anchor="start">CD8<tspan font-size="14" dy="-8">+</tspan><tspan dy="8" dx="1.5"> T</tspan><tspan font-size="14.7" dy="7.8" dx="0.5">RM</tspan></text>
<text x="167.8" y="245.6" font-size="23" font-weight="bold" fill="#000" text-anchor="start" textLength="138.4" lengthAdjust="spacingAndGlyphs">Sympathetic</text>
<text x="167.8" y="271.6" font-size="23" font-weight="bold" fill="#000" text-anchor="start" textLength="74.4" lengthAdjust="spacingAndGlyphs">nerves</text>
<text x="108.3" y="312.3" font-size="23" font-weight="bold" fill="#4a85c9" text-anchor="start" textLength="124.8" lengthAdjust="spacingAndGlyphs">Hair follicle</text>
<text x="39.3" y="356.8" font-size="23.4" font-weight="normal" fill="#000" text-anchor="start" textLength="234.5" lengthAdjust="spacingAndGlyphs">Sympathetic activation</text>
<text x="69.3" y="624.3" font-size="23.4" font-weight="normal" fill="#000" text-anchor="start">CD8<tspan font-size="14" dy="-8">+</tspan><tspan dy="8" dx="1.5"> T</tspan><tspan font-size="14.7" dy="7.8" dx="0.5">RM</tspan><tspan dy="-7.8" dx="0.6">density</tspan></text>
<text x="70" y="821.2" font-size="23.4" font-weight="bold" fill="#000" text-anchor="start" textLength="173" lengthAdjust="spacingAndGlyphs">Melanoma cells</text>
<text x="36.7" y="954" font-size="23.4" font-weight="normal" fill="#000" text-anchor="start" textLength="238.6" lengthAdjust="spacingAndGlyphs">Melanoma progression</text>
<text x="394" y="104.5" font-size="23.4" font-weight="bold" fill="#000" text-anchor="start" textLength="208.5" lengthAdjust="spacingAndGlyphs">Sympathetic nerve</text>
<text x="482.8" y="203.3" font-size="23" font-weight="bold" fill="#ee5a1e" text-anchor="start" textLength="30.8" lengthAdjust="spacingAndGlyphs">NE</text>
<text x="497.3" y="438" font-size="23.2" font-weight="bold" fill="#1a71c0" text-anchor="middle">ADRB2</text>
<text x="420.5" y="533.6" font-size="23.4" font-weight="bold" fill="#1a71c0" text-anchor="start" textLength="154.5" lengthAdjust="spacingAndGlyphs">Keratinocytes</text>
<text x="453" y="644.6" font-size="23.3" font-weight="bold" fill="#8b1062" text-anchor="start" textLength="89.4" lengthAdjust="spacingAndGlyphs">CXCL16</text>
<text x="459" y="792.8" font-size="23.2" font-weight="bold" fill="#f0801c" text-anchor="start" textLength="78.6" lengthAdjust="spacingAndGlyphs">CXCR6</text>
<text x="449.3" y="914" font-size="23" font-weight="bold" fill="#f0801c" text-anchor="start">CD8<tspan font-size="14" dy="-8">+</tspan><tspan dy="8" dx="1.5"> T</tspan><tspan font-size="14.7" dy="7.8" dx="0.5">RM</tspan></text>
<text x="720" y="356.8" font-size="23.4" font-weight="normal" fill="#000" text-anchor="start" textLength="229" lengthAdjust="spacingAndGlyphs">Sympathetic inhibition</text>
<text x="733.8" y="615.7" font-size="23.4" font-weight="bold" fill="#f0571e" text-anchor="start" textLength="201.5" lengthAdjust="spacingAndGlyphs">Circulating T cells</text>
<text x="744" y="647.6" font-size="23.4" font-weight="normal" fill="#000" text-anchor="start">CD8<tspan font-size="14" dy="-8">+</tspan><tspan dy="8" dx="1.5"> T</tspan><tspan font-size="14.7" dy="7.8" dx="0.5">RM</tspan><tspan dy="-7.8" dx="6.6">density</tspan></text>
<text x="748" y="821.2" font-size="23.4" font-weight="bold" fill="#000" text-anchor="start" textLength="172.6" lengthAdjust="spacingAndGlyphs">Melanoma cells</text>
<text x="730" y="954" font-size="23.4" font-weight="normal" fill="#000" text-anchor="start" textLength="208.7" lengthAdjust="spacingAndGlyphs">Melanoma inhibition</text></svg>
</body></html>
